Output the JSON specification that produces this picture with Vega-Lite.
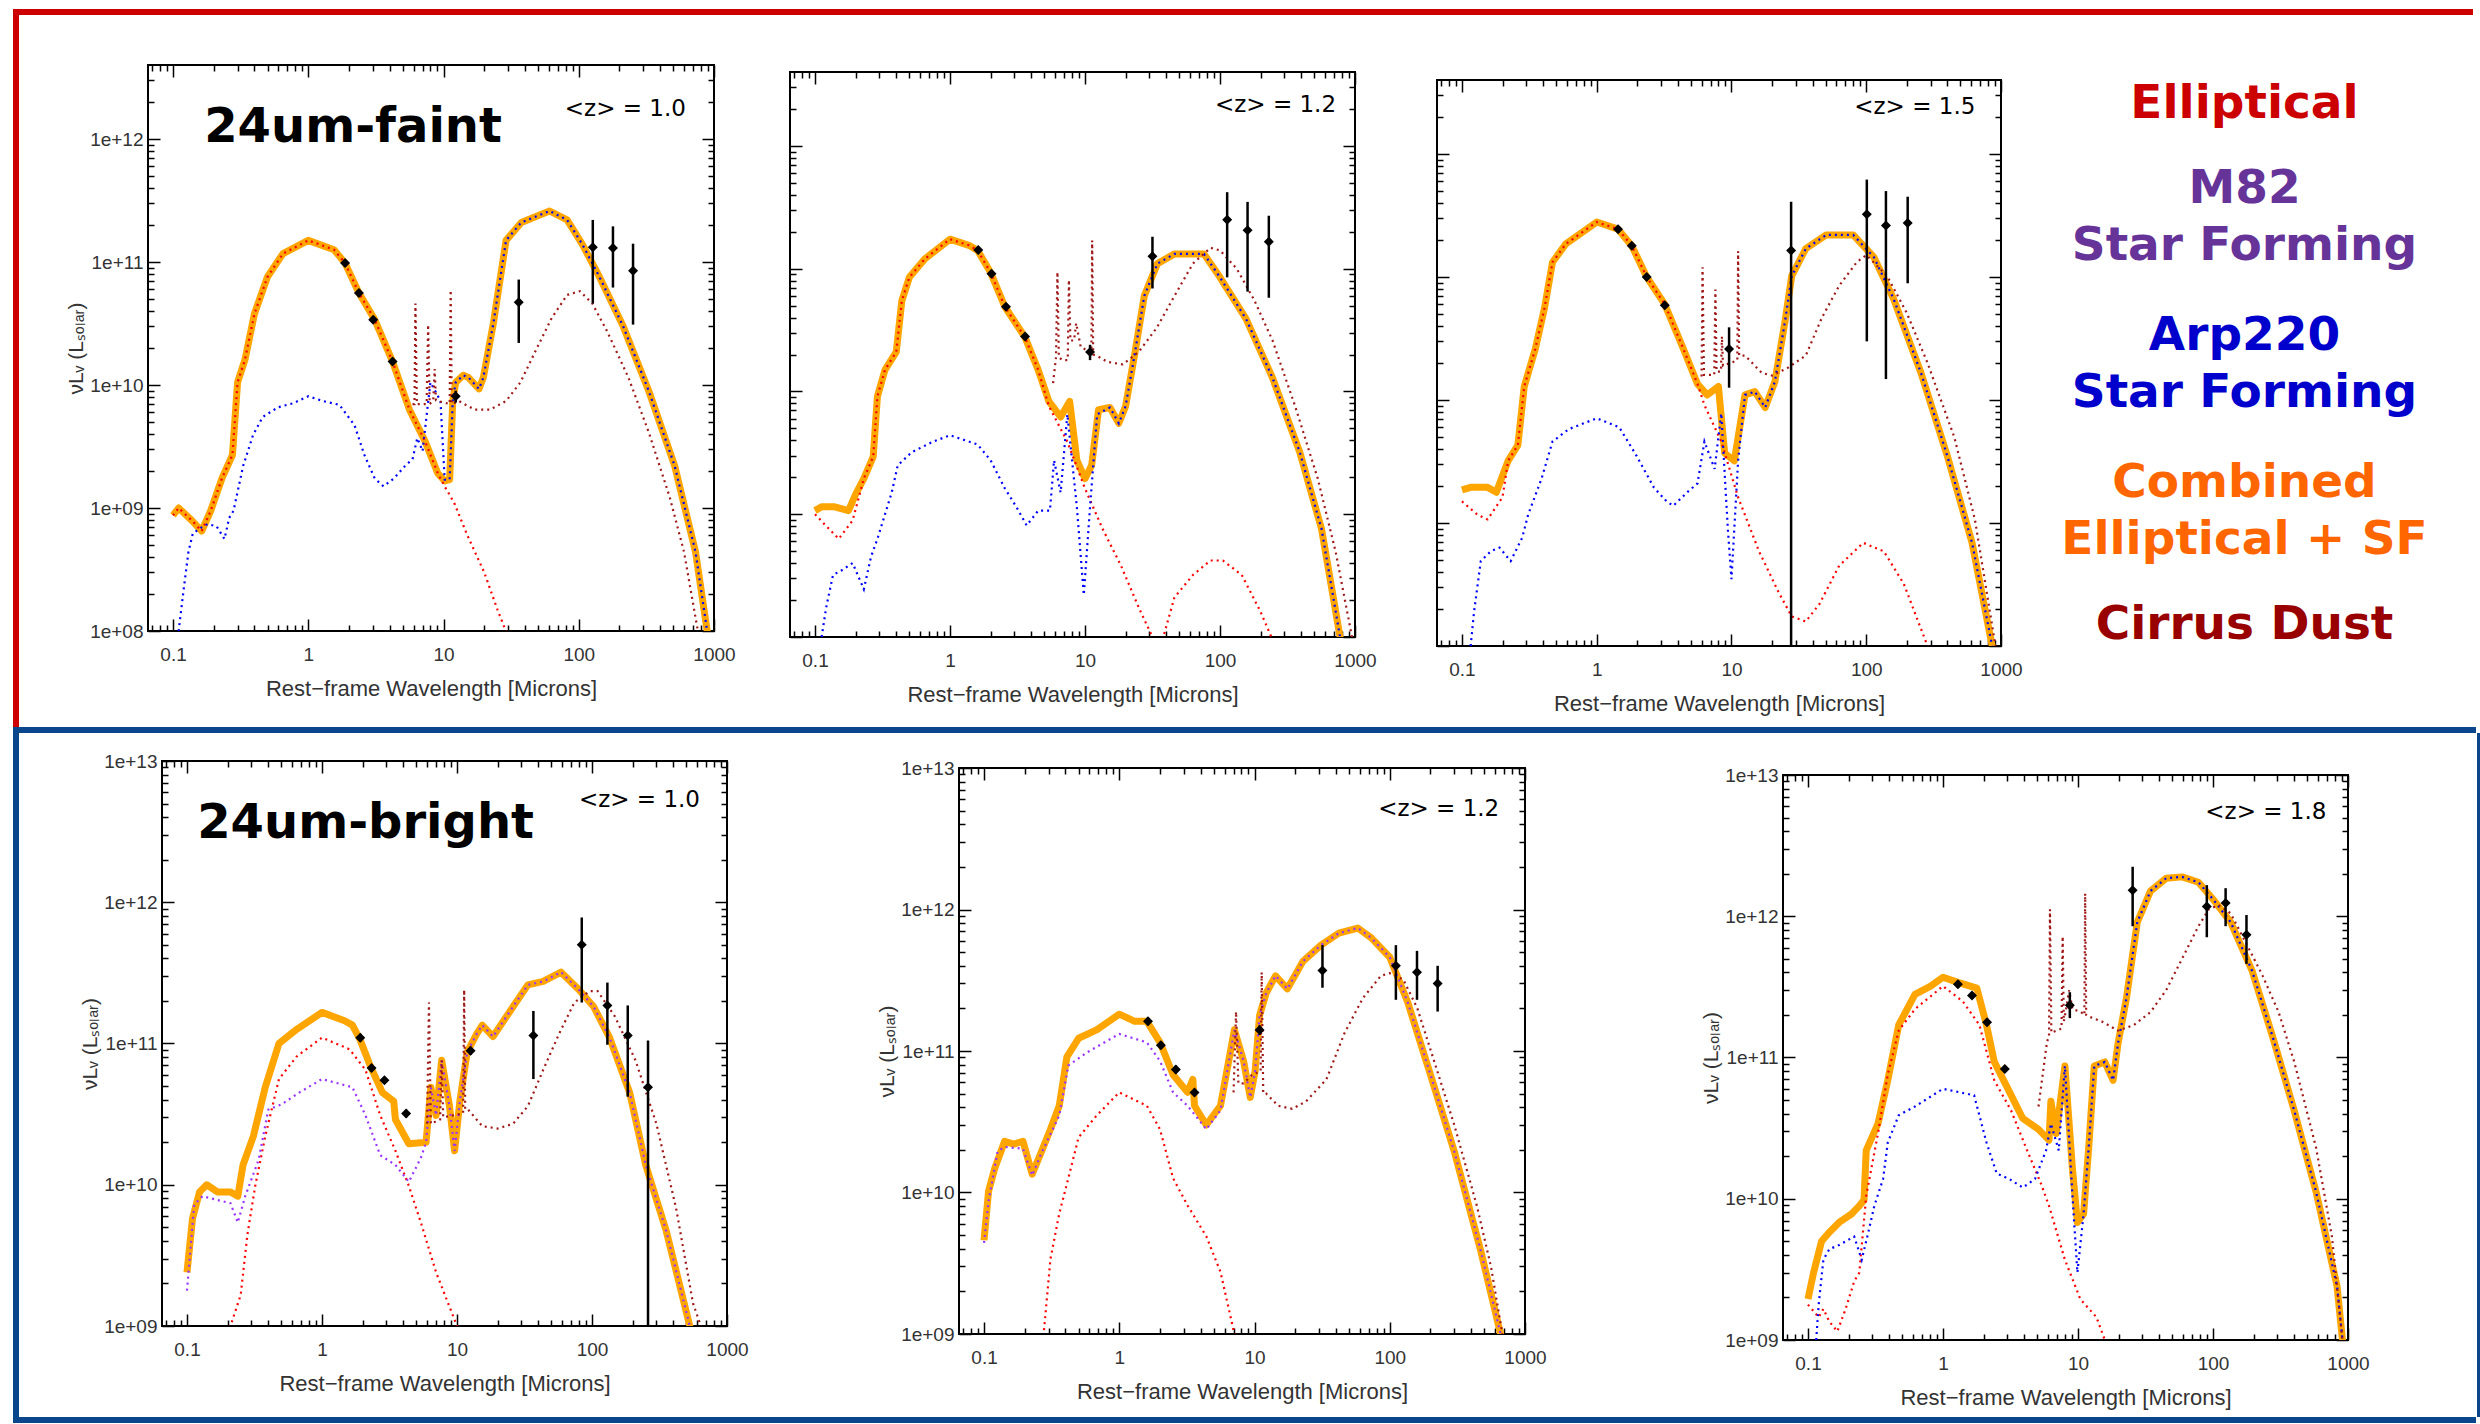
{
"$schema": "https://vega.github.io/schema/vega-lite/v6.json",
"padding": {"left": 13, "top": 9, "right": 0, "bottom": 0},
"background": "white",
"spacing": 0,
"datasets": {
"c": [
{"p":1,"s":"C","x":0.1,"y":8.7e8},{"p":1,"s":"C","x":0.11,"y":1e9},{"p":1,"s":"C","x":0.138,"y":7.9e8},{"p":1,"s":"C","x":0.163,"y":6.5e8},{"p":1,"s":"C","x":0.19,"y":9.5e8},{"p":1,"s":"C","x":0.23,"y":1.74e9},{"p":1,"s":"C","x":0.275,"y":2.7e9},{"p":1,"s":"C","x":0.3,"y":1.05e10},{"p":1,"s":"C","x":0.34,"y":1.6e10},{"p":1,"s":"C","x":0.4,"y":3.8e10},{"p":1,"s":"C","x":0.5,"y":7.6e10},{"p":1,"s":"C","x":0.65,"y":1.17e11},{"p":1,"s":"C","x":1,"y":1.5e11},{"p":1,"s":"C","x":1.55,"y":1.26e11},{"p":1,"s":"C","x":1.87,"y":9.8e10},{"p":1,"s":"C","x":2.37,"y":5.6e10},{"p":1,"s":"C","x":3.1,"y":3.4e10},{"p":1,"s":"C","x":4.2,"y":1.55e10},{"p":1,"s":"C","x":5.6,"y":6.3e9},{"p":1,"s":"C","x":7.3,"y":3.5e9},{"p":1,"s":"C","x":9.1,"y":1.9e9},{"p":1,"s":"C","x":10.2,"y":1.66e9},{"p":1,"s":"C","x":11.1,"y":1.7e9},{"p":1,"s":"C","x":11.7,"y":7.4e9},{"p":1,"s":"C","x":12.3,"y":1.05e10},{"p":1,"s":"C","x":14,"y":1.2e10},{"p":1,"s":"C","x":15.3,"y":1.15e10},{"p":1,"s":"C","x":18.3,"y":9.3e9},{"p":1,"s":"C","x":19.7,"y":1.15e10},{"p":1,"s":"C","x":23.4,"y":3.2e10},{"p":1,"s":"C","x":29,"y":1.5e11},{"p":1,"s":"C","x":37.6,"y":2.1e11},{"p":1,"s":"C","x":60.8,"y":2.6e11},{"p":1,"s":"C","x":82,"y":2.2e11},{"p":1,"s":"C","x":106,"y":1.4e11},{"p":1,"s":"C","x":142,"y":7.6e10},{"p":1,"s":"C","x":213,"y":3e10},{"p":1,"s":"C","x":330,"y":8.9e9},{"p":1,"s":"C","x":512,"y":2.2e9},{"p":1,"s":"C","x":730,"y":4.4e8},{"p":1,"s":"C","x":890,"y":1e8},{"p":1,"s":"C","x":950,"y":7e7},
{"p":1,"s":"E","x":0.1,"y":8.7e8},{"p":1,"s":"E","x":0.11,"y":1e9},{"p":1,"s":"E","x":0.138,"y":7.9e8},{"p":1,"s":"E","x":0.163,"y":6.5e8},{"p":1,"s":"E","x":0.19,"y":9.5e8},{"p":1,"s":"E","x":0.23,"y":1.74e9},{"p":1,"s":"E","x":0.275,"y":2.7e9},{"p":1,"s":"E","x":0.3,"y":1.05e10},{"p":1,"s":"E","x":0.34,"y":1.6e10},{"p":1,"s":"E","x":0.4,"y":3.8e10},{"p":1,"s":"E","x":0.5,"y":7.6e10},{"p":1,"s":"E","x":0.65,"y":1.17e11},{"p":1,"s":"E","x":1,"y":1.5e11},{"p":1,"s":"E","x":1.55,"y":1.26e11},{"p":1,"s":"E","x":1.87,"y":9.8e10},{"p":1,"s":"E","x":2.37,"y":5.6e10},{"p":1,"s":"E","x":3.1,"y":3.4e10},{"p":1,"s":"E","x":4.2,"y":1.55e10},{"p":1,"s":"E","x":5.6,"y":6.3e9},{"p":1,"s":"E","x":7.3,"y":3.5e9},{"p":1,"s":"E","x":9.1,"y":1.9e9},{"p":1,"s":"E","x":10.2,"y":1.5e9},{"p":1,"s":"E","x":12,"y":1.1e9},{"p":1,"s":"E","x":15,"y":6e8},{"p":1,"s":"E","x":20,"y":3e8},{"p":1,"s":"E","x":25,"y":1.5e8},{"p":1,"s":"E","x":30,"y":9e7},
{"p":1,"s":"A","x":0.11,"y":1e8},{"p":1,"s":"A","x":0.12,"y":2.2e8},{"p":1,"s":"A","x":0.13,"y":4.4e8},{"p":1,"s":"A","x":0.14,"y":6.2e8},{"p":1,"s":"A","x":0.157,"y":6.8e8},{"p":1,"s":"A","x":0.18,"y":7.4e8},{"p":1,"s":"A","x":0.21,"y":7.1e8},{"p":1,"s":"A","x":0.24,"y":5.6e8},{"p":1,"s":"A","x":0.26,"y":8.3e8},{"p":1,"s":"A","x":0.28,"y":9.5e8},{"p":1,"s":"A","x":0.33,"y":2.2e9},{"p":1,"s":"A","x":0.39,"y":3.9e9},{"p":1,"s":"A","x":0.46,"y":5.5e9},{"p":1,"s":"A","x":0.6,"y":6.6e9},{"p":1,"s":"A","x":0.77,"y":7.1e9},{"p":1,"s":"A","x":1,"y":8.1e9},{"p":1,"s":"A","x":1.29,"y":7.4e9},{"p":1,"s":"A","x":1.7,"y":6.9e9},{"p":1,"s":"A","x":2.2,"y":4.7e9},{"p":1,"s":"A","x":2.6,"y":2.7e9},{"p":1,"s":"A","x":3.1,"y":1.74e9},{"p":1,"s":"A","x":3.6,"y":1.5e9},{"p":1,"s":"A","x":4.3,"y":1.74e9},{"p":1,"s":"A","x":5.2,"y":2.2e9},{"p":1,"s":"A","x":5.9,"y":2.5e9},{"p":1,"s":"A","x":6.4,"y":3.7e9},{"p":1,"s":"A","x":7,"y":2.9e9},{"p":1,"s":"A","x":8,"y":1.05e10},{"p":1,"s":"A","x":8.7,"y":8.9e9},{"p":1,"s":"A","x":9.5,"y":7.4e9},{"p":1,"s":"A","x":10.2,"y":1.7e9},{"p":1,"s":"A","x":11.1,"y":1.7e9},{"p":1,"s":"A","x":11.7,"y":7.4e9},{"p":1,"s":"A","x":12.3,"y":1.05e10},{"p":1,"s":"A","x":14,"y":1.2e10},{"p":1,"s":"A","x":15.3,"y":1.15e10},{"p":1,"s":"A","x":18.3,"y":9.3e9},{"p":1,"s":"A","x":19.7,"y":1.15e10},{"p":1,"s":"A","x":23.4,"y":3.2e10},{"p":1,"s":"A","x":29,"y":1.5e11},{"p":1,"s":"A","x":37.6,"y":2.1e11},{"p":1,"s":"A","x":60.8,"y":2.6e11},{"p":1,"s":"A","x":82,"y":2.2e11},{"p":1,"s":"A","x":106,"y":1.4e11},{"p":1,"s":"A","x":142,"y":7.6e10},{"p":1,"s":"A","x":213,"y":3e10},{"p":1,"s":"A","x":330,"y":8.9e9},{"p":1,"s":"A","x":512,"y":2.2e9},{"p":1,"s":"A","x":730,"y":4.4e8},{"p":1,"s":"A","x":890,"y":1e8},{"p":1,"s":"A","x":950,"y":7e7},
{"p":1,"s":"D","x":5.9,"y":7e9},{"p":1,"s":"D","x":6.1,"y":7e9},{"p":1,"s":"D","x":6.2,"y":4.6e10},{"p":1,"s":"D","x":6.35,"y":7e9},{"p":1,"s":"D","x":7.5,"y":7e9},{"p":1,"s":"D","x":7.7,"y":3.1e10},{"p":1,"s":"D","x":7.9,"y":7e9},{"p":1,"s":"D","x":8.4,"y":7.5e9},{"p":1,"s":"D","x":8.6,"y":1.35e10},{"p":1,"s":"D","x":8.8,"y":7.5e9},{"p":1,"s":"D","x":11.1,"y":7e9},{"p":1,"s":"D","x":11.3,"y":5.9e10},{"p":1,"s":"D","x":11.5,"y":7e9},{"p":1,"s":"D","x":13,"y":7.4e9},{"p":1,"s":"D","x":17,"y":6.3e9},{"p":1,"s":"D","x":22,"y":6.3e9},{"p":1,"s":"D","x":29,"y":7.4e9},{"p":1,"s":"D","x":37,"y":1.05e10},{"p":1,"s":"D","x":48,"y":1.9e10},{"p":1,"s":"D","x":63,"y":3.5e10},{"p":1,"s":"D","x":82,"y":5.4e10},{"p":1,"s":"D","x":102,"y":5.8e10},{"p":1,"s":"D","x":126,"y":4.6e10},{"p":1,"s":"D","x":163,"y":2.7e10},{"p":1,"s":"D","x":233,"y":1.15e10},{"p":1,"s":"D","x":330,"y":4.1e9},{"p":1,"s":"D","x":470,"y":1.23e9},{"p":1,"s":"D","x":600,"y":4.4e8},{"p":1,"s":"D","x":760,"y":1e8},{"p":1,"s":"D","x":850,"y":5e7},
{"p":2,"s":"C","x":0.1,"y":1.07e9},{"p":2,"s":"C","x":0.112,"y":1.15e9},{"p":2,"s":"C","x":0.14,"y":1.15e9},{"p":2,"s":"C","x":0.177,"y":1.07e9},{"p":2,"s":"C","x":0.2,"y":1.45e9},{"p":2,"s":"C","x":0.23,"y":1.95e9},{"p":2,"s":"C","x":0.27,"y":2.95e9},{"p":2,"s":"C","x":0.29,"y":9.1e9},{"p":2,"s":"C","x":0.33,"y":1.5e10},{"p":2,"s":"C","x":0.4,"y":2.1e10},{"p":2,"s":"C","x":0.44,"y":5.5e10},{"p":2,"s":"C","x":0.5,"y":8.5e10},{"p":2,"s":"C","x":0.65,"y":1.2e11},{"p":2,"s":"C","x":1,"y":1.74e11},{"p":2,"s":"C","x":1.38,"y":1.55e11},{"p":2,"s":"C","x":1.6,"y":1.41e11},{"p":2,"s":"C","x":2,"y":9.3e10},{"p":2,"s":"C","x":2.55,"y":4.9e10},{"p":2,"s":"C","x":3.6,"y":2.75e10},{"p":2,"s":"C","x":4.5,"y":1.5e10},{"p":2,"s":"C","x":5.4,"y":8.3e9},{"p":2,"s":"C","x":6.6,"y":6.2e9},{"p":2,"s":"C","x":7.7,"y":8.3e9},{"p":2,"s":"C","x":8.7,"y":2.75e9},{"p":2,"s":"C","x":10,"y":1.95e9},{"p":2,"s":"C","x":11.2,"y":2.5e9},{"p":2,"s":"C","x":12.6,"y":7.1e9},{"p":2,"s":"C","x":15.3,"y":7.4e9},{"p":2,"s":"C","x":17.8,"y":5.5e9},{"p":2,"s":"C","x":20,"y":7.6e9},{"p":2,"s":"C","x":23.5,"y":2.1e10},{"p":2,"s":"C","x":27.5,"y":6e10},{"p":2,"s":"C","x":34.4,"y":1.1e11},{"p":2,"s":"C","x":46,"y":1.32e11},{"p":2,"s":"C","x":76,"y":1.32e11},{"p":2,"s":"C","x":100,"y":8.5e10},{"p":2,"s":"C","x":156,"y":3.9e10},{"p":2,"s":"C","x":245,"y":1.29e10},{"p":2,"s":"C","x":390,"y":3.2e9},{"p":2,"s":"C","x":565,"y":7.6e8},{"p":2,"s":"C","x":775,"y":1e8},{"p":2,"s":"C","x":850,"y":6e7},
{"p":2,"s":"E","x":0.1,"y":1e9},{"p":2,"s":"E","x":0.12,"y":8.1e8},{"p":2,"s":"E","x":0.15,"y":6.3e8},{"p":2,"s":"E","x":0.19,"y":8.9e8},{"p":2,"s":"E","x":0.23,"y":1.95e9},{"p":2,"s":"E","x":0.27,"y":2.95e9},{"p":2,"s":"E","x":0.29,"y":9.1e9},{"p":2,"s":"E","x":0.33,"y":1.5e10},{"p":2,"s":"E","x":0.4,"y":2.1e10},{"p":2,"s":"E","x":0.44,"y":5.5e10},{"p":2,"s":"E","x":0.5,"y":8.5e10},{"p":2,"s":"E","x":0.65,"y":1.2e11},{"p":2,"s":"E","x":1,"y":1.74e11},{"p":2,"s":"E","x":1.38,"y":1.55e11},{"p":2,"s":"E","x":1.6,"y":1.41e11},{"p":2,"s":"E","x":2,"y":9.3e10},{"p":2,"s":"E","x":2.55,"y":4.9e10},{"p":2,"s":"E","x":3.6,"y":2.75e10},{"p":2,"s":"E","x":4.5,"y":1.5e10},{"p":2,"s":"E","x":5.4,"y":7.6e9},{"p":2,"s":"E","x":7.4,"y":3.9e9},{"p":2,"s":"E","x":10,"y":1.62e9},{"p":2,"s":"E","x":13.5,"y":7.6e8},{"p":2,"s":"E","x":18.5,"y":3.8e8},{"p":2,"s":"E","x":25,"y":1.74e8},{"p":2,"s":"E","x":31.6,"y":1e8},{"p":2,"s":"E","x":35,"y":7e7},{"p":2,"s":"E","x":38,"y":1e8},{"p":2,"s":"E","x":46,"y":2.1e8},{"p":2,"s":"E","x":63,"y":3.2e8},{"p":2,"s":"E","x":85,"y":4.2e8},{"p":2,"s":"E","x":105,"y":4.2e8},{"p":2,"s":"E","x":145,"y":3.2e8},{"p":2,"s":"E","x":200,"y":1.6e8},{"p":2,"s":"E","x":240,"y":1e8},{"p":2,"s":"E","x":270,"y":7e7},
{"p":2,"s":"A","x":0.112,"y":1e8},{"p":2,"s":"A","x":0.121,"y":1.74e8},{"p":2,"s":"A","x":0.136,"y":3.2e8},{"p":2,"s":"A","x":0.158,"y":3.5e8},{"p":2,"s":"A","x":0.19,"y":4e8},{"p":2,"s":"A","x":0.23,"y":2.45e8},{"p":2,"s":"A","x":0.26,"y":4.5e8},{"p":2,"s":"A","x":0.29,"y":6.3e8},{"p":2,"s":"A","x":0.37,"y":1.5e9},{"p":2,"s":"A","x":0.41,"y":2.5e9},{"p":2,"s":"A","x":0.52,"y":3.2e9},{"p":2,"s":"A","x":0.75,"y":3.9e9},{"p":2,"s":"A","x":1,"y":4.4e9},{"p":2,"s":"A","x":1.6,"y":3.7e9},{"p":2,"s":"A","x":2,"y":2.75e9},{"p":2,"s":"A","x":2.55,"y":1.62e9},{"p":2,"s":"A","x":3.1,"y":1.15e9},{"p":2,"s":"A","x":3.7,"y":8.1e8},{"p":2,"s":"A","x":4.5,"y":1.07e9},{"p":2,"s":"A","x":5.5,"y":1.07e9},{"p":2,"s":"A","x":5.9,"y":2.75e9},{"p":2,"s":"A","x":6.6,"y":1.5e9},{"p":2,"s":"A","x":7.4,"y":6.5e9},{"p":2,"s":"A","x":8.7,"y":1.15e9},{"p":2,"s":"A","x":9.8,"y":2.2e8},{"p":2,"s":"A","x":10.9,"y":1.15e9},{"p":2,"s":"A","x":12.3,"y":6.5e9},{"p":2,"s":"A","x":15.3,"y":7.4e9},{"p":2,"s":"A","x":17.8,"y":5.5e9},{"p":2,"s":"A","x":20,"y":7.6e9},{"p":2,"s":"A","x":23.5,"y":2.1e10},{"p":2,"s":"A","x":27.5,"y":6e10},{"p":2,"s":"A","x":34.4,"y":1.1e11},{"p":2,"s":"A","x":46,"y":1.32e11},{"p":2,"s":"A","x":76,"y":1.32e11},{"p":2,"s":"A","x":100,"y":8.5e10},{"p":2,"s":"A","x":156,"y":3.9e10},{"p":2,"s":"A","x":245,"y":1.29e10},{"p":2,"s":"A","x":390,"y":3.2e9},{"p":2,"s":"A","x":565,"y":7.6e8},{"p":2,"s":"A","x":775,"y":1e8},{"p":2,"s":"A","x":850,"y":6e7},
{"p":2,"s":"D","x":5.8,"y":1.17e10},{"p":2,"s":"D","x":6.1,"y":1.9e10},{"p":2,"s":"D","x":6.25,"y":9.4e10},{"p":2,"s":"D","x":6.4,"y":1.9e10},{"p":2,"s":"D","x":6.8,"y":1.8e10},{"p":2,"s":"D","x":7.45,"y":1.8e10},{"p":2,"s":"D","x":7.6,"y":8.1e10},{"p":2,"s":"D","x":7.8,"y":2.6e10},{"p":2,"s":"D","x":8.3,"y":2.6e10},{"p":2,"s":"D","x":8.6,"y":3.6e10},{"p":2,"s":"D","x":9.3,"y":2.3e10},{"p":2,"s":"D","x":10.9,"y":2.1e10},{"p":2,"s":"D","x":11.15,"y":2.1e10},{"p":2,"s":"D","x":11.3,"y":1.7e11},{"p":2,"s":"D","x":11.5,"y":2e10},{"p":2,"s":"D","x":12.3,"y":1.95e10},{"p":2,"s":"D","x":14.7,"y":1.74e10},{"p":2,"s":"D","x":19,"y":1.66e10},{"p":2,"s":"D","x":25,"y":2.1e10},{"p":2,"s":"D","x":34,"y":3.3e10},{"p":2,"s":"D","x":46,"y":6e10},{"p":2,"s":"D","x":63,"y":1.1e11},{"p":2,"s":"D","x":85,"y":1.48e11},{"p":2,"s":"D","x":100,"y":1.41e11},{"p":2,"s":"D","x":133,"y":1e11},{"p":2,"s":"D","x":180,"y":5.5e10},{"p":2,"s":"D","x":245,"y":2.6e10},{"p":2,"s":"D","x":360,"y":7.6e9},{"p":2,"s":"D","x":530,"y":1.95e9},{"p":2,"s":"D","x":720,"y":4.9e8},{"p":2,"s":"D","x":950,"y":1e8},{"p":2,"s":"D","x":1000,"y":6e7},
{"p":3,"s":"C","x":0.1,"y":1.86e9},{"p":3,"s":"C","x":0.116,"y":1.95e9},{"p":3,"s":"C","x":0.155,"y":1.95e9},{"p":3,"s":"C","x":0.18,"y":1.78e9},{"p":3,"s":"C","x":0.22,"y":3.2e9},{"p":3,"s":"C","x":0.26,"y":4.3e9},{"p":3,"s":"C","x":0.29,"y":1.29e10},{"p":3,"s":"C","x":0.35,"y":2.6e10},{"p":3,"s":"C","x":0.41,"y":5.6e10},{"p":3,"s":"C","x":0.47,"y":1.32e11},{"p":3,"s":"C","x":0.59,"y":1.86e11},{"p":3,"s":"C","x":1,"y":2.8e11},{"p":3,"s":"C","x":1.44,"y":2.45e11},{"p":3,"s":"C","x":1.82,"y":1.8e11},{"p":3,"s":"C","x":2.35,"y":1e11},{"p":3,"s":"C","x":3.2,"y":6e10},{"p":3,"s":"C","x":4.4,"y":2.6e10},{"p":3,"s":"C","x":5.6,"y":1.35e10},{"p":3,"s":"C","x":6.6,"y":1.1e10},{"p":3,"s":"C","x":8,"y":1.29e10},{"p":3,"s":"C","x":8.9,"y":3.7e9},{"p":3,"s":"C","x":10.5,"y":3.2e9},{"p":3,"s":"C","x":12.6,"y":1.1e10},{"p":3,"s":"C","x":14.9,"y":1.17e10},{"p":3,"s":"C","x":17.8,"y":8.7e9},{"p":3,"s":"C","x":21,"y":1.41e10},{"p":3,"s":"C","x":25,"y":4.4e10},{"p":3,"s":"C","x":28,"y":1.02e11},{"p":3,"s":"C","x":35.6,"y":1.7e11},{"p":3,"s":"C","x":50.5,"y":2.2e11},{"p":3,"s":"C","x":80,"y":2.2e11},{"p":3,"s":"C","x":114,"y":1.45e11},{"p":3,"s":"C","x":160,"y":6.6e10},{"p":3,"s":"C","x":255,"y":1.66e10},{"p":3,"s":"C","x":400,"y":3.5e9},{"p":3,"s":"C","x":610,"y":6.9e8},{"p":3,"s":"C","x":860,"y":1e8},{"p":3,"s":"C","x":950,"y":5e7},
{"p":3,"s":"E","x":0.1,"y":1.5e9},{"p":3,"s":"E","x":0.13,"y":1.17e9},{"p":3,"s":"E","x":0.155,"y":1.07e9},{"p":3,"s":"E","x":0.2,"y":1.62e9},{"p":3,"s":"E","x":0.22,"y":3.2e9},{"p":3,"s":"E","x":0.26,"y":4.3e9},{"p":3,"s":"E","x":0.29,"y":1.29e10},{"p":3,"s":"E","x":0.35,"y":2.6e10},{"p":3,"s":"E","x":0.41,"y":5.6e10},{"p":3,"s":"E","x":0.47,"y":1.32e11},{"p":3,"s":"E","x":0.59,"y":1.86e11},{"p":3,"s":"E","x":1,"y":2.8e11},{"p":3,"s":"E","x":1.44,"y":2.45e11},{"p":3,"s":"E","x":1.82,"y":1.8e11},{"p":3,"s":"E","x":2.35,"y":1e11},{"p":3,"s":"E","x":3.2,"y":6e10},{"p":3,"s":"E","x":4.4,"y":2.6e10},{"p":3,"s":"E","x":5.6,"y":1.35e10},{"p":3,"s":"E","x":6.3,"y":9.1e9},{"p":3,"s":"E","x":8.4,"y":4.6e9},{"p":3,"s":"E","x":11.2,"y":1.62e9},{"p":3,"s":"E","x":16,"y":5.9e8},{"p":3,"s":"E","x":22.5,"y":2.7e8},{"p":3,"s":"E","x":28,"y":1.74e8},{"p":3,"s":"E","x":35.6,"y":1.58e8},{"p":3,"s":"E","x":45,"y":2.2e8},{"p":3,"s":"E","x":63,"y":4.5e8},{"p":3,"s":"E","x":95,"y":6.9e8},{"p":3,"s":"E","x":135,"y":5.9e8},{"p":3,"s":"E","x":190,"y":3.2e8},{"p":3,"s":"E","x":285,"y":1e8},{"p":3,"s":"E","x":320,"y":7e7},
{"p":3,"s":"A","x":0.116,"y":1e8},{"p":3,"s":"A","x":0.123,"y":1.9e8},{"p":3,"s":"A","x":0.138,"y":4.9e8},{"p":3,"s":"A","x":0.164,"y":5.9e8},{"p":3,"s":"A","x":0.19,"y":6.3e8},{"p":3,"s":"A","x":0.23,"y":4.9e8},{"p":3,"s":"A","x":0.28,"y":7.6e8},{"p":3,"s":"A","x":0.31,"y":1.17e9},{"p":3,"s":"A","x":0.39,"y":2.3e9},{"p":3,"s":"A","x":0.47,"y":4.6e9},{"p":3,"s":"A","x":0.62,"y":5.8e9},{"p":3,"s":"A","x":1,"y":7.1e9},{"p":3,"s":"A","x":1.47,"y":6e9},{"p":3,"s":"A","x":1.98,"y":3.5e9},{"p":3,"s":"A","x":2.65,"y":1.95e9},{"p":3,"s":"A","x":3.3,"y":1.5e9},{"p":3,"s":"A","x":3.7,"y":1.38e9},{"p":3,"s":"A","x":4.7,"y":1.78e9},{"p":3,"s":"A","x":5.6,"y":2.1e9},{"p":3,"s":"A","x":6.3,"y":4.6e9},{"p":3,"s":"A","x":7.5,"y":2.75e9},{"p":3,"s":"A","x":8.4,"y":7.8e9},{"p":3,"s":"A","x":9.4,"y":8.9e8},{"p":3,"s":"A","x":10,"y":3.5e8},{"p":3,"s":"A","x":11.2,"y":3.2e9},{"p":3,"s":"A","x":12.6,"y":1.1e10},{"p":3,"s":"A","x":14.9,"y":1.17e10},{"p":3,"s":"A","x":17.8,"y":8.7e9},{"p":3,"s":"A","x":21,"y":1.41e10},{"p":3,"s":"A","x":25,"y":4.4e10},{"p":3,"s":"A","x":28,"y":1.02e11},{"p":3,"s":"A","x":35.6,"y":1.7e11},{"p":3,"s":"A","x":50.5,"y":2.2e11},{"p":3,"s":"A","x":80,"y":2.2e11},{"p":3,"s":"A","x":114,"y":1.45e11},{"p":3,"s":"A","x":160,"y":6.6e10},{"p":3,"s":"A","x":255,"y":1.66e10},{"p":3,"s":"A","x":400,"y":3.5e9},{"p":3,"s":"A","x":610,"y":6.9e8},{"p":3,"s":"A","x":860,"y":1e8},{"p":3,"s":"A","x":950,"y":5e7},
{"p":3,"s":"D","x":6,"y":1.55e10},{"p":3,"s":"D","x":6.1,"y":1.2e11},{"p":3,"s":"D","x":6.25,"y":1.6e10},{"p":3,"s":"D","x":7.45,"y":1.6e10},{"p":3,"s":"D","x":7.6,"y":7.9e10},{"p":3,"s":"D","x":7.75,"y":1.7e10},{"p":3,"s":"D","x":8.35,"y":1.7e10},{"p":3,"s":"D","x":8.5,"y":3.3e10},{"p":3,"s":"D","x":8.65,"y":1.9e10},{"p":3,"s":"D","x":11.05,"y":2.1e10},{"p":3,"s":"D","x":11.2,"y":1.62e11},{"p":3,"s":"D","x":11.4,"y":2.3e10},{"p":3,"s":"D","x":12.6,"y":2.3e10},{"p":3,"s":"D","x":16.8,"y":1.66e10},{"p":3,"s":"D","x":20,"y":1.58e10},{"p":3,"s":"D","x":26,"y":1.82e10},{"p":3,"s":"D","x":35.6,"y":2.3e10},{"p":3,"s":"D","x":47,"y":4.7e10},{"p":3,"s":"D","x":63,"y":8.5e10},{"p":3,"s":"D","x":85,"y":1.32e11},{"p":3,"s":"D","x":100,"y":1.51e11},{"p":3,"s":"D","x":143,"y":1.02e11},{"p":3,"s":"D","x":200,"y":5.1e10},{"p":3,"s":"D","x":285,"y":2e10},{"p":3,"s":"D","x":450,"y":5e9},{"p":3,"s":"D","x":640,"y":1.07e9},{"p":3,"s":"D","x":910,"y":1e8},{"p":3,"s":"D","x":980,"y":6e7},
{"p":4,"s":"C","x":0.1,"y":2.4e9},{"p":4,"s":"C","x":0.11,"y":5.8e9},{"p":4,"s":"C","x":0.124,"y":8.9e9},{"p":4,"s":"C","x":0.14,"y":1e10},{"p":4,"s":"C","x":0.168,"y":8.9e9},{"p":4,"s":"C","x":0.21,"y":8.9e9},{"p":4,"s":"C","x":0.238,"y":8.3e9},{"p":4,"s":"C","x":0.26,"y":1.38e10},{"p":4,"s":"C","x":0.31,"y":2.2e10},{"p":4,"s":"C","x":0.38,"y":4.9e10},{"p":4,"s":"C","x":0.48,"y":1e11},{"p":4,"s":"C","x":0.65,"y":1.26e11},{"p":4,"s":"C","x":1,"y":1.66e11},{"p":4,"s":"C","x":1.47,"y":1.45e11},{"p":4,"s":"C","x":1.68,"y":1.35e11},{"p":4,"s":"C","x":1.91,"y":1.07e11},{"p":4,"s":"C","x":2.3,"y":6.8e10},{"p":4,"s":"C","x":2.8,"y":4.5e10},{"p":4,"s":"C","x":3.4,"y":3.9e10},{"p":4,"s":"C","x":3.5,"y":2.9e10},{"p":4,"s":"C","x":4.4,"y":1.95e10},{"p":4,"s":"C","x":5.9,"y":2e10},{"p":4,"s":"C","x":6.4,"y":4.9e10},{"p":4,"s":"C","x":7,"y":3.1e10},{"p":4,"s":"C","x":7.7,"y":7.6e10},{"p":4,"s":"C","x":8.8,"y":3.6e10},{"p":4,"s":"C","x":9.6,"y":1.74e10},{"p":4,"s":"C","x":10.5,"y":3.9e10},{"p":4,"s":"C","x":11.9,"y":8.7e10},{"p":4,"s":"C","x":14,"y":1.17e11},{"p":4,"s":"C","x":15.4,"y":1.35e11},{"p":4,"s":"C","x":18.5,"y":1.12e11},{"p":4,"s":"C","x":26,"y":1.82e11},{"p":4,"s":"C","x":33.5,"y":2.6e11},{"p":4,"s":"C","x":43.5,"y":2.75e11},{"p":4,"s":"C","x":59,"y":3.2e11},{"p":4,"s":"C","x":80,"y":2.4e11},{"p":4,"s":"C","x":103,"y":1.82e11},{"p":4,"s":"C","x":135,"y":1.1e11},{"p":4,"s":"C","x":190,"y":4.5e10},{"p":4,"s":"C","x":250,"y":1.38e10},{"p":4,"s":"C","x":355,"y":4.7e9},{"p":4,"s":"C","x":530,"y":1e9},{"p":4,"s":"C","x":600,"y":6e8},
{"p":4,"s":"E","x":0.2,"y":8e8},{"p":4,"s":"E","x":0.21,"y":1e9},{"p":4,"s":"E","x":0.25,"y":1.66e9},{"p":4,"s":"E","x":0.28,"y":4.4e9},{"p":4,"s":"E","x":0.32,"y":9.8e9},{"p":4,"s":"E","x":0.38,"y":2.2e10},{"p":4,"s":"E","x":0.48,"y":5.6e10},{"p":4,"s":"E","x":0.65,"y":8.1e10},{"p":4,"s":"E","x":1,"y":1.1e11},{"p":4,"s":"E","x":1.6,"y":9.1e10},{"p":4,"s":"E","x":2.1,"y":6.5e10},{"p":4,"s":"E","x":2.7,"y":3.1e10},{"p":4,"s":"E","x":3.5,"y":1.74e10},{"p":4,"s":"E","x":4.4,"y":9.8e9},{"p":4,"s":"E","x":5.4,"y":5.4e9},{"p":4,"s":"E","x":7,"y":2.4e9},{"p":4,"s":"E","x":10,"y":1e9},{"p":4,"s":"E","x":11,"y":8e8},
{"p":4,"s":"M","x":0.1,"y":1.78e9},{"p":4,"s":"M","x":0.113,"y":7.2e9},{"p":4,"s":"M","x":0.13,"y":8.3e9},{"p":4,"s":"M","x":0.168,"y":7.8e9},{"p":4,"s":"M","x":0.21,"y":7.4e9},{"p":4,"s":"M","x":0.238,"y":5.4e9},{"p":4,"s":"M","x":0.27,"y":8.3e9},{"p":4,"s":"M","x":0.34,"y":1.51e10},{"p":4,"s":"M","x":0.4,"y":3.4e10},{"p":4,"s":"M","x":0.5,"y":3.7e10},{"p":4,"s":"M","x":0.68,"y":4.5e10},{"p":4,"s":"M","x":1,"y":5.6e10},{"p":4,"s":"M","x":1.68,"y":4.9e10},{"p":4,"s":"M","x":2.1,"y":3.1e10},{"p":4,"s":"M","x":2.7,"y":1.62e10},{"p":4,"s":"M","x":3.5,"y":1.38e10},{"p":4,"s":"M","x":4.4,"y":1.05e10},{"p":4,"s":"M","x":5.4,"y":1.55e10},{"p":4,"s":"M","x":5.9,"y":2e10},{"p":4,"s":"M","x":6.4,"y":4.9e10},{"p":4,"s":"M","x":7,"y":3.1e10},{"p":4,"s":"M","x":7.7,"y":7.6e10},{"p":4,"s":"M","x":8.8,"y":3.6e10},{"p":4,"s":"M","x":9.6,"y":1.74e10},{"p":4,"s":"M","x":10.5,"y":3.9e10},{"p":4,"s":"M","x":11.9,"y":8.7e10},{"p":4,"s":"M","x":14,"y":1.17e11},{"p":4,"s":"M","x":15.4,"y":1.35e11},{"p":4,"s":"M","x":18.5,"y":1.12e11},{"p":4,"s":"M","x":26,"y":1.82e11},{"p":4,"s":"M","x":33.5,"y":2.6e11},{"p":4,"s":"M","x":43.5,"y":2.75e11},{"p":4,"s":"M","x":59,"y":3.2e11},{"p":4,"s":"M","x":80,"y":2.4e11},{"p":4,"s":"M","x":103,"y":1.82e11},{"p":4,"s":"M","x":135,"y":1.1e11},{"p":4,"s":"M","x":190,"y":4.5e10},{"p":4,"s":"M","x":250,"y":1.38e10},{"p":4,"s":"M","x":355,"y":4.7e9},{"p":4,"s":"M","x":530,"y":1e9},{"p":4,"s":"M","x":600,"y":6e8},
{"p":4,"s":"D","x":6,"y":2.7e10},{"p":4,"s":"D","x":6.2,"y":1.95e11},{"p":4,"s":"D","x":6.4,"y":2.7e10},{"p":4,"s":"D","x":7.5,"y":2.9e10},{"p":4,"s":"D","x":7.7,"y":7.6e10},{"p":4,"s":"D","x":7.9,"y":3e10},{"p":4,"s":"D","x":11.1,"y":3.2e10},{"p":4,"s":"D","x":11.3,"y":2.4e11},{"p":4,"s":"D","x":11.5,"y":3.4e10},{"p":4,"s":"D","x":12.1,"y":3.4e10},{"p":4,"s":"D","x":15.4,"y":2.6e10},{"p":4,"s":"D","x":20,"y":2.5e10},{"p":4,"s":"D","x":26,"y":2.7e10},{"p":4,"s":"D","x":33.5,"y":3.6e10},{"p":4,"s":"D","x":43.5,"y":6.5e10},{"p":4,"s":"D","x":57,"y":1.17e11},{"p":4,"s":"D","x":74,"y":1.95e11},{"p":4,"s":"D","x":96,"y":2.35e11},{"p":4,"s":"D","x":110,"y":2.35e11},{"p":4,"s":"D","x":148,"y":1.55e11},{"p":4,"s":"D","x":210,"y":7.6e10},{"p":4,"s":"D","x":300,"y":2.7e10},{"p":4,"s":"D","x":420,"y":6.8e9},{"p":4,"s":"D","x":560,"y":1.45e9},{"p":4,"s":"D","x":640,"y":1e9},{"p":4,"s":"D","x":700,"y":7e8},
{"p":5,"s":"C","x":0.1,"y":4.6e9},{"p":5,"s":"C","x":0.108,"y":1.02e10},{"p":5,"s":"C","x":0.12,"y":1.48e10},{"p":5,"s":"C","x":0.142,"y":2.3e10},{"p":5,"s":"C","x":0.166,"y":2.2e10},{"p":5,"s":"C","x":0.194,"y":2.3e10},{"p":5,"s":"C","x":0.227,"y":1.35e10},{"p":5,"s":"C","x":0.266,"y":1.95e10},{"p":5,"s":"C","x":0.31,"y":2.8e10},{"p":5,"s":"C","x":0.36,"y":4.1e10},{"p":5,"s":"C","x":0.41,"y":9.1e10},{"p":5,"s":"C","x":0.5,"y":1.23e11},{"p":5,"s":"C","x":0.68,"y":1.41e11},{"p":5,"s":"C","x":1,"y":1.82e11},{"p":5,"s":"C","x":1.3,"y":1.62e11},{"p":5,"s":"C","x":1.6,"y":1.62e11},{"p":5,"s":"C","x":2,"y":1.15e11},{"p":5,"s":"C","x":2.5,"y":6.8e10},{"p":5,"s":"C","x":3.2,"y":5.1e10},{"p":5,"s":"C","x":3.5,"y":6.3e10},{"p":5,"s":"C","x":3.6,"y":4.1e10},{"p":5,"s":"C","x":4.4,"y":3e10},{"p":5,"s":"C","x":5.6,"y":4.1e10},{"p":5,"s":"C","x":7.1,"y":1.41e11},{"p":5,"s":"C","x":8.3,"y":8.5e10},{"p":5,"s":"C","x":9.3,"y":4.7e10},{"p":5,"s":"C","x":10.1,"y":7.2e10},{"p":5,"s":"C","x":10.9,"y":1.78e11},{"p":5,"s":"C","x":12.2,"y":2.57e11},{"p":5,"s":"C","x":14.3,"y":3.4e11},{"p":5,"s":"C","x":17.5,"y":2.75e11},{"p":5,"s":"C","x":22.8,"y":4.3e11},{"p":5,"s":"C","x":31,"y":5.6e11},{"p":5,"s":"C","x":42,"y":6.8e11},{"p":5,"s":"C","x":58,"y":7.4e11},{"p":5,"s":"C","x":73,"y":6.3e11},{"p":5,"s":"C","x":100,"y":4.6e11},{"p":5,"s":"C","x":136,"y":2.2e11},{"p":5,"s":"C","x":200,"y":6.8e10},{"p":5,"s":"C","x":300,"y":1.95e10},{"p":5,"s":"C","x":470,"y":3.9e9},{"p":5,"s":"C","x":660,"y":1e9},{"p":5,"s":"C","x":720,"y":7e8},
{"p":5,"s":"E","x":0.26,"y":8e8},{"p":5,"s":"E","x":0.276,"y":1e9},{"p":5,"s":"E","x":0.31,"y":3.4e9},{"p":5,"s":"E","x":0.36,"y":7.1e9},{"p":5,"s":"E","x":0.42,"y":1.26e10},{"p":5,"s":"E","x":0.5,"y":2.45e10},{"p":5,"s":"E","x":0.68,"y":3.5e10},{"p":5,"s":"E","x":1,"y":5.1e10},{"p":5,"s":"E","x":1.6,"y":4.1e10},{"p":5,"s":"E","x":2,"y":2.8e10},{"p":5,"s":"E","x":2.5,"y":1.26e10},{"p":5,"s":"E","x":3.2,"y":8.1e9},{"p":5,"s":"E","x":4.4,"y":4.9e9},{"p":5,"s":"E","x":5.6,"y":2.75e9},{"p":5,"s":"E","x":7.1,"y":1e9},{"p":5,"s":"E","x":7.5,"y":8e8},
{"p":5,"s":"M","x":0.1,"y":4.4e9},{"p":5,"s":"M","x":0.108,"y":8.7e9},{"p":5,"s":"M","x":0.126,"y":1.95e10},{"p":5,"s":"M","x":0.142,"y":2.1e10},{"p":5,"s":"M","x":0.194,"y":2.04e10},{"p":5,"s":"M","x":0.227,"y":1.32e10},{"p":5,"s":"M","x":0.266,"y":1.9e10},{"p":5,"s":"M","x":0.36,"y":3.5e10},{"p":5,"s":"M","x":0.42,"y":7.9e10},{"p":5,"s":"M","x":0.58,"y":9.8e10},{"p":5,"s":"M","x":1,"y":1.32e11},{"p":5,"s":"M","x":1.6,"y":1.15e11},{"p":5,"s":"M","x":2,"y":8.5e10},{"p":5,"s":"M","x":2.5,"y":5.1e10},{"p":5,"s":"M","x":3.2,"y":4.1e10},{"p":5,"s":"M","x":4.4,"y":2.8e10},{"p":5,"s":"M","x":5.6,"y":3.8e10},{"p":5,"s":"M","x":7.1,"y":1.41e11},{"p":5,"s":"M","x":8.3,"y":8.5e10},{"p":5,"s":"M","x":9.3,"y":4.7e10},{"p":5,"s":"M","x":10.1,"y":7.2e10},{"p":5,"s":"M","x":10.9,"y":1.78e11},{"p":5,"s":"M","x":12.2,"y":2.57e11},{"p":5,"s":"M","x":14.3,"y":3.4e11},{"p":5,"s":"M","x":17.5,"y":2.75e11},{"p":5,"s":"M","x":22.8,"y":4.3e11},{"p":5,"s":"M","x":31,"y":5.6e11},{"p":5,"s":"M","x":42,"y":6.8e11},{"p":5,"s":"M","x":58,"y":7.4e11},{"p":5,"s":"M","x":73,"y":6.3e11},{"p":5,"s":"M","x":100,"y":4.6e11},{"p":5,"s":"M","x":136,"y":2.2e11},{"p":5,"s":"M","x":200,"y":6.8e10},{"p":5,"s":"M","x":300,"y":1.95e10},{"p":5,"s":"M","x":470,"y":3.9e9},{"p":5,"s":"M","x":660,"y":1e9},{"p":5,"s":"M","x":720,"y":7e8},
{"p":5,"s":"D","x":7,"y":5.1e10},{"p":5,"s":"D","x":7.3,"y":1.9e11},{"p":5,"s":"D","x":7.6,"y":5.9e10},{"p":5,"s":"D","x":8.3,"y":5.9e10},{"p":5,"s":"D","x":9.6,"y":6.8e10},{"p":5,"s":"D","x":11.1,"y":7.2e10},{"p":5,"s":"D","x":11.3,"y":3.6e11},{"p":5,"s":"D","x":11.6,"y":5e10},{"p":5,"s":"D","x":12.2,"y":5e10},{"p":5,"s":"D","x":15,"y":4.1e10},{"p":5,"s":"D","x":19,"y":3.9e10},{"p":5,"s":"D","x":24,"y":4.4e10},{"p":5,"s":"D","x":34,"y":6.3e10},{"p":5,"s":"D","x":46,"y":1.32e11},{"p":5,"s":"D","x":63,"y":2.35e11},{"p":5,"s":"D","x":86,"y":3.4e11},{"p":5,"s":"D","x":100,"y":3.55e11},{"p":5,"s":"D","x":126,"y":3.2e11},{"p":5,"s":"D","x":160,"y":2e11},{"p":5,"s":"D","x":218,"y":7.9e10},{"p":5,"s":"D","x":300,"y":3e10},{"p":5,"s":"D","x":440,"y":8.1e9},{"p":5,"s":"D","x":560,"y":3e9},{"p":5,"s":"D","x":680,"y":1e9},{"p":5,"s":"D","x":740,"y":7e8},
{"p":6,"s":"C","x":0.1,"y":1.95e9},{"p":6,"s":"C","x":0.11,"y":3e9},{"p":6,"s":"C","x":0.126,"y":5e9},{"p":6,"s":"C","x":0.144,"y":5.8e9},{"p":6,"s":"C","x":0.17,"y":6.8e9},{"p":6,"s":"C","x":0.21,"y":7.8e9},{"p":6,"s":"C","x":0.24,"y":8.9e9},{"p":6,"s":"C","x":0.26,"y":9.8e9},{"p":6,"s":"C","x":0.27,"y":2.2e10},{"p":6,"s":"C","x":0.33,"y":3.4e10},{"p":6,"s":"C","x":0.39,"y":6.9e10},{"p":6,"s":"C","x":0.47,"y":1.7e11},{"p":6,"s":"C","x":0.62,"y":2.8e11},{"p":6,"s":"C","x":0.81,"y":3.2e11},{"p":6,"s":"C","x":1,"y":3.7e11},{"p":6,"s":"C","x":1.29,"y":3.4e11},{"p":6,"s":"C","x":1.78,"y":3.1e11},{"p":6,"s":"C","x":2.1,"y":1.7e11},{"p":6,"s":"C","x":2.4,"y":9.3e10},{"p":6,"s":"C","x":2.9,"y":6.5e10},{"p":6,"s":"C","x":3.9,"y":3.7e10},{"p":6,"s":"C","x":5.1,"y":3.1e10},{"p":6,"s":"C","x":6.1,"y":2.6e10},{"p":6,"s":"C","x":6.3,"y":4.9e10},{"p":6,"s":"C","x":6.9,"y":2.9e10},{"p":6,"s":"C","x":8,"y":8.7e10},{"p":6,"s":"C","x":9.1,"y":1.62e10},{"p":6,"s":"C","x":9.9,"y":6.8e9},{"p":6,"s":"C","x":11,"y":7.8e9},{"p":6,"s":"C","x":12,"y":2.3e10},{"p":6,"s":"C","x":13.2,"y":8.7e10},{"p":6,"s":"C","x":15.8,"y":9.3e10},{"p":6,"s":"C","x":18.2,"y":6.9e10},{"p":6,"s":"C","x":19.8,"y":1.26e11},{"p":6,"s":"C","x":22.8,"y":2.6e11},{"p":6,"s":"C","x":27.5,"y":9.1e11},{"p":6,"s":"C","x":34.5,"y":1.51e12},{"p":6,"s":"C","x":45,"y":1.86e12},{"p":6,"s":"C","x":59,"y":1.9e12},{"p":6,"s":"C","x":78,"y":1.74e12},{"p":6,"s":"C","x":100,"y":1.32e12},{"p":6,"s":"C","x":135,"y":9.1e11},{"p":6,"s":"C","x":195,"y":4.1e11},{"p":6,"s":"C","x":280,"y":1.35e11},{"p":6,"s":"C","x":400,"y":4.2e10},{"p":6,"s":"C","x":580,"y":1.12e10},{"p":6,"s":"C","x":830,"y":2.4e9},{"p":6,"s":"C","x":910,"y":1e9},{"p":6,"s":"C","x":960,"y":7e8},
{"p":6,"s":"E","x":0.1,"y":1.78e9},{"p":6,"s":"E","x":0.12,"y":1.45e9},{"p":6,"s":"E","x":0.13,"y":1.66e9},{"p":6,"s":"E","x":0.144,"y":1.35e9},{"p":6,"s":"E","x":0.165,"y":1.15e9},{"p":6,"s":"E","x":0.19,"y":1.66e9},{"p":6,"s":"E","x":0.22,"y":2.6e9},{"p":6,"s":"E","x":0.24,"y":3e9},{"p":6,"s":"E","x":0.27,"y":1.05e10},{"p":6,"s":"E","x":0.33,"y":2.9e10},{"p":6,"s":"E","x":0.39,"y":7.6e10},{"p":6,"s":"E","x":0.47,"y":1.55e11},{"p":6,"s":"E","x":0.62,"y":2.2e11},{"p":6,"s":"E","x":1,"y":3.2e11},{"p":6,"s":"E","x":1.4,"y":2.5e11},{"p":6,"s":"E","x":1.86,"y":1.7e11},{"p":6,"s":"E","x":2.4,"y":6.9e10},{"p":6,"s":"E","x":3.2,"y":4.2e10},{"p":6,"s":"E","x":4.2,"y":2.2e10},{"p":6,"s":"E","x":5.3,"y":1.29e10},{"p":6,"s":"E","x":6.1,"y":8.9e9},{"p":6,"s":"E","x":8,"y":3.7e9},{"p":6,"s":"E","x":10.4,"y":1.95e9},{"p":6,"s":"E","x":13.7,"y":1.45e9},{"p":6,"s":"E","x":15.8,"y":1e9},{"p":6,"s":"E","x":17,"y":8e8},
{"p":6,"s":"A","x":0.115,"y":1e9},{"p":6,"s":"A","x":0.12,"y":1.78e9},{"p":6,"s":"A","x":0.13,"y":3.7e9},{"p":6,"s":"A","x":0.144,"y":4.4e9},{"p":6,"s":"A","x":0.17,"y":4.7e9},{"p":6,"s":"A","x":0.22,"y":5.4e9},{"p":6,"s":"A","x":0.25,"y":3.7e9},{"p":6,"s":"A","x":0.28,"y":5.8e9},{"p":6,"s":"A","x":0.31,"y":8.9e9},{"p":6,"s":"A","x":0.36,"y":1.38e10},{"p":6,"s":"A","x":0.39,"y":2.5e10},{"p":6,"s":"A","x":0.47,"y":3.9e10},{"p":6,"s":"A","x":0.62,"y":4.5e10},{"p":6,"s":"A","x":1,"y":6e10},{"p":6,"s":"A","x":1.7,"y":5.4e10},{"p":6,"s":"A","x":2.1,"y":2.5e10},{"p":6,"s":"A","x":2.5,"y":1.51e10},{"p":6,"s":"A","x":3.1,"y":1.38e10},{"p":6,"s":"A","x":3.9,"y":1.2e10},{"p":6,"s":"A","x":4.8,"y":1.38e10},{"p":6,"s":"A","x":5.8,"y":2.2e10},{"p":6,"s":"A","x":6.3,"y":3.4e10},{"p":6,"s":"A","x":7.2,"y":2.2e10},{"p":6,"s":"A","x":8,"y":8.7e10},{"p":6,"s":"A","x":9.1,"y":1.05e10},{"p":6,"s":"A","x":9.9,"y":3e9},{"p":6,"s":"A","x":11,"y":7.8e9},{"p":6,"s":"A","x":12,"y":2.3e10},{"p":6,"s":"A","x":13.2,"y":8.7e10},{"p":6,"s":"A","x":15.8,"y":9.3e10},{"p":6,"s":"A","x":18.2,"y":6.9e10},{"p":6,"s":"A","x":19.8,"y":1.26e11},{"p":6,"s":"A","x":22.8,"y":2.6e11},{"p":6,"s":"A","x":27.5,"y":9.1e11},{"p":6,"s":"A","x":34.5,"y":1.51e12},{"p":6,"s":"A","x":45,"y":1.86e12},{"p":6,"s":"A","x":59,"y":1.9e12},{"p":6,"s":"A","x":78,"y":1.74e12},{"p":6,"s":"A","x":100,"y":1.32e12},{"p":6,"s":"A","x":135,"y":9.1e11},{"p":6,"s":"A","x":195,"y":4.1e11},{"p":6,"s":"A","x":280,"y":1.35e11},{"p":6,"s":"A","x":400,"y":4.2e10},{"p":6,"s":"A","x":580,"y":1.12e10},{"p":6,"s":"A","x":830,"y":2.4e9},{"p":6,"s":"A","x":910,"y":1e9},{"p":6,"s":"A","x":960,"y":7e8},
{"p":6,"s":"D","x":5.1,"y":4.5e10},{"p":6,"s":"D","x":5.9,"y":1.3e11},{"p":6,"s":"D","x":6.1,"y":1.4e11},{"p":6,"s":"D","x":6.2,"y":1.12e12},{"p":6,"s":"D","x":6.35,"y":1.5e11},{"p":6,"s":"D","x":7.55,"y":1.6e11},{"p":6,"s":"D","x":7.7,"y":7.2e11},{"p":6,"s":"D","x":7.85,"y":1.8e11},{"p":6,"s":"D","x":8.1,"y":2.1e11},{"p":6,"s":"D","x":8.6,"y":3e11},{"p":6,"s":"D","x":9.1,"y":2.2e11},{"p":6,"s":"D","x":10.5,"y":2.1e11},{"p":6,"s":"D","x":11.15,"y":2e11},{"p":6,"s":"D","x":11.3,"y":1.45e12},{"p":6,"s":"D","x":11.5,"y":2e11},{"p":6,"s":"D","x":12,"y":1.95e11},{"p":6,"s":"D","x":15,"y":1.8e11},{"p":6,"s":"D","x":19.8,"y":1.55e11},{"p":6,"s":"D","x":26,"y":1.7e11},{"p":6,"s":"D","x":34.5,"y":2.1e11},{"p":6,"s":"D","x":45,"y":3e11},{"p":6,"s":"D","x":59,"y":5e11},{"p":6,"s":"D","x":78,"y":8.5e11},{"p":6,"s":"D","x":93,"y":1.12e12},{"p":6,"s":"D","x":110,"y":1.2e12},{"p":6,"s":"D","x":135,"y":1.05e12},{"p":6,"s":"D","x":178,"y":6.3e11},{"p":6,"s":"D","x":233,"y":3.8e11},{"p":6,"s":"D","x":306,"y":2.1e11},{"p":6,"s":"D","x":400,"y":9.3e10},{"p":6,"s":"D","x":580,"y":2.3e10},{"p":6,"s":"D","x":760,"y":5.4e9},{"p":6,"s":"D","x":910,"y":1e9},{"p":6,"s":"D","x":960,"y":7e8}
],
"pt": [
{"p":1,"x":1.87,"y":9.8e10,"lo":9.2e10,"hi":1.04e11},{"p":1,"x":2.37,"y":5.6e10,"lo":5.2e10,"hi":6e10},{"p":1,"x":3.02,"y":3.4e10,"lo":3.2e10,"hi":3.6e10},{"p":1,"x":4.2,"y":1.55e10,"lo":1.45e10,"hi":1.65e10},{"p":1,"x":12.3,"y":8.1e9,"lo":7.2e9,"hi":9e9},{"p":1,"x":36,"y":4.7e10,"lo":2.2e10,"hi":7.2e10},{"p":1,"x":127,"y":1.32e11,"lo":4.6e10,"hi":2.2e11},{"p":1,"x":179,"y":1.3e11,"lo":6.2e10,"hi":1.95e11},{"p":1,"x":252,"y":8.5e10,"lo":3.1e10,"hi":1.41e11},
{"p":2,"x":1.62,"y":1.42e11,"lo":1.33e11,"hi":1.51e11},{"p":2,"x":2.03,"y":9.1e10,"lo":8.5e10,"hi":9.7e10},{"p":2,"x":2.6,"y":4.9e10,"lo":4.6e10,"hi":5.2e10},{"p":2,"x":3.6,"y":2.8e10,"lo":2.6e10,"hi":3e10},{"p":2,"x":10.9,"y":2.1e10,"lo":1.8e10,"hi":2.4e10},{"p":2,"x":31.6,"y":1.26e11,"lo":6.9e10,"hi":1.82e11},{"p":2,"x":113,"y":2.5e11,"lo":8.5e10,"hi":4.2e11},{"p":2,"x":160,"y":2.06e11,"lo":6.5e10,"hi":3.5e11},{"p":2,"x":230,"y":1.66e11,"lo":5.8e10,"hi":2.7e11},
{"p":3,"x":1.44,"y":2.45e11,"lo":2.3e11,"hi":2.6e11},{"p":3,"x":1.82,"y":1.8e11,"lo":1.7e11,"hi":1.9e11},{"p":3,"x":2.35,"y":1e11,"lo":9.4e10,"hi":1.06e11},{"p":3,"x":3.2,"y":5.9e10,"lo":5.5e10,"hi":6.3e10},{"p":3,"x":9.6,"y":2.6e10,"lo":1.26e10,"hi":3.9e10},{"p":3,"x":27.7,"y":1.64e11,"lo":9e7,"hi":4.1e11},{"p":3,"x":101,"y":3.24e11,"lo":3e10,"hi":6.2e11},{"p":3,"x":140,"y":2.63e11,"lo":1.48e10,"hi":5e11},{"p":3,"x":203,"y":2.75e11,"lo":8.9e10,"hi":4.5e11},
{"p":4,"x":1.92,"y":1.1e11,"lo":1.03e11,"hi":1.17e11},{"p":4,"x":2.33,"y":6.7e10,"lo":6.3e10,"hi":7.1e10},{"p":4,"x":2.9,"y":5.5e10,"lo":5.2e10,"hi":5.8e10},{"p":4,"x":4.2,"y":3.2e10,"lo":3e10,"hi":3.4e10},{"p":4,"x":12.6,"y":8.9e10,"lo":8.3e10,"hi":9.5e10},{"p":4,"x":36.8,"y":1.14e11,"lo":5.6e10,"hi":1.7e11},{"p":4,"x":84,"y":5e11,"lo":1.95e11,"hi":7.8e11},{"p":4,"x":130,"y":1.86e11,"lo":9.8e10,"hi":2.7e11},{"p":4,"x":184,"y":1.14e11,"lo":4.2e10,"hi":1.86e11},{"p":4,"x":260,"y":4.9e10,"lo":8e8,"hi":1.05e11},
{"p":5,"x":1.63,"y":1.62e11,"lo":1.52e11,"hi":1.72e11},{"p":5,"x":2.03,"y":1.1e11,"lo":1.03e11,"hi":1.17e11},{"p":5,"x":2.62,"y":7.4e10,"lo":6.9e10,"hi":7.9e10},{"p":5,"x":3.6,"y":5.1e10,"lo":4.8e10,"hi":5.4e10},{"p":5,"x":10.9,"y":1.41e11,"lo":1.3e11,"hi":1.52e11},{"p":5,"x":31.8,"y":3.7e11,"lo":2.8e11,"hi":5.6e11},{"p":5,"x":111,"y":4e11,"lo":2.3e11,"hi":5.6e11},{"p":5,"x":159,"y":3.6e11,"lo":2.3e11,"hi":5.1e11},{"p":5,"x":226,"y":3e11,"lo":1.9e11,"hi":4e11},
{"p":6,"x":1.29,"y":3.3e11,"lo":3.1e11,"hi":3.5e11},{"p":6,"x":1.64,"y":2.75e11,"lo":2.6e11,"hi":2.9e11},{"p":6,"x":2.12,"y":1.78e11,"lo":1.68e11,"hi":1.88e11},{"p":6,"x":2.87,"y":8.3e10,"lo":7.8e10,"hi":8.8e10},{"p":6,"x":8.7,"y":2.34e11,"lo":1.9e11,"hi":2.9e11},{"p":6,"x":25.4,"y":1.53e12,"lo":8.5e11,"hi":2.24e12},{"p":6,"x":90,"y":1.17e12,"lo":7.1e11,"hi":1.66e12},{"p":6,"x":124,"y":1.24e12,"lo":8.5e11,"hi":1.58e12},{"p":6,"x":177,"y":7.4e11,"lo":4.6e11,"hi":1.02e12}
]
},
"vconcat": [
{"width": 2460, "height": 6, "data": {"values": []}, "mark": "rect", "view": {"stroke": null, "fill": "#cc0000"}},
{"spacing": 0, "hconcat": [
 {"width": 6, "height": 712, "data": {"values": []}, "mark": "rect", "view": {"stroke": null, "fill": "#cc0000"}},
 {"width": 45, "height": 1, "data": {"values": []}, "mark": "rect", "view": {"stroke": null}},
 {"spacing": 0, "vconcat": [
  {"width": 1, "height": 48, "data": {"values": []}, "mark": "rect", "view": {"stroke": null}},
  {"width": 566, "height": 566,
   "layer": [
    {"data": {"name": "c"}, "transform": [{"filter": "datum.p==1 && datum.s=='C'"}], "mark": {"type": "line", "color": "#ffa500", "strokeWidth": 7, "strokeJoin": "round", "clip": true},
     "encoding": {"x": {"field": "x", "type": "quantitative", "scale": {"type": "log", "domain": [0.0653, 1000], "nice": false}, "axis": {"orient": "bottom", "values": [0.1,1,10,100,1000], "tickSize": -12, "labelPadding": 26, "labelExpr": "format(datum.value,'~g')", "title": "Rest−frame Wavelength [Microns]", "titlePadding": 14}},
                  "y": {"field": "y", "type": "quantitative", "scale": {"type": "log", "domain": [1e8, 4e12], "nice": false}, "axis": {"orient": "left", "values": [1e8,1e9,1e10,1e11,1e12], "tickSize": -12, "labelPadding": 17, "labelExpr": "'1e+'+format(round(log(datum.value)/LN10),'02d')", "title": "νLᵥ (Lₛₒₗₐᵣ)", "titlePadding": 3}}}},
    {"data": {"name": "c"}, "transform": [{"filter": "datum.p==1 && datum.s!='C'"}], "mark": {"type": "line", "strokeWidth": 2.2, "strokeDash": [2, 4], "clip": true},
     "encoding": {"x": {"field": "x", "type": "quantitative", "scale": {"type": "log", "domain": [0.0653, 1000], "nice": false}, "axis": {"orient": "bottom", "values": [0.07,0.08,0.09,0.2,0.3,0.4,0.5,0.6,0.7,0.8,0.9,2,3,4,5,6,7,8,9,20,30,40,50,60,70,80,90,200,300,400,500,600,700,800,900], "tickSize": -6, "labels": false, "title": null}},
                  "y": {"field": "y", "type": "quantitative", "scale": {"type": "log", "domain": [1e8, 4e12], "nice": false}, "axis": {"orient": "left", "values": [2e8,3e8,4e8,5e8,6e8,7e8,8e8,9e8,2e9,3e9,4e9,5e9,6e9,7e9,8e9,9e9,2e10,3e10,4e10,5e10,6e10,7e10,8e10,9e10,2e11,3e11,4e11,5e11,6e11,7e11,8e11,9e11,2e12,3e12], "tickSize": -6, "labels": false, "title": null}},
                  "color": {"field": "s", "type": "nominal", "scale": {"domain": ["E","A","M","D"], "range": ["#ff0000","#0000ff","#9933ff","#a01818"]}, "legend": null}}},
    {"data": {"name": "pt"}, "transform": [{"filter": "datum.p==1"}], "mark": {"type": "rule", "color": "black", "strokeWidth": 2.5, "clip": true},
     "encoding": {"x": {"field": "x", "type": "quantitative", "scale": {"type": "log", "domain": [0.0653, 1000], "nice": false}, "axis": {"orient": "top", "values": [0.1,1,10,100,1000], "tickSize": -12, "labels": false, "title": null}},
                  "y": {"field": "lo", "type": "quantitative", "scale": {"type": "log", "domain": [1e8, 4e12], "nice": false}, "axis": {"orient": "right", "values": [1e8,1e9,1e10,1e11,1e12], "tickSize": -12, "labels": false, "title": null}},
                  "y2": {"field": "hi"}}},
    {"data": {"name": "pt"}, "transform": [{"filter": "datum.p==1"}], "mark": {"type": "point", "shape": "diamond", "filled": true, "color": "black", "size": 100, "opacity": 1},
     "encoding": {"x": {"field": "x", "type": "quantitative", "scale": {"type": "log", "domain": [0.0653, 1000], "nice": false}, "axis": {"orient": "top", "values": [0.07,0.08,0.09,0.2,0.3,0.4,0.5,0.6,0.7,0.8,0.9,2,3,4,5,6,7,8,9,20,30,40,50,60,70,80,90,200,300,400,500,600,700,800,900], "tickSize": -6, "labels": false, "title": null}},
                  "y": {"field": "y", "type": "quantitative", "scale": {"type": "log", "domain": [1e8, 4e12], "nice": false}, "axis": {"orient": "right", "values": [2e8,3e8,4e8,5e8,6e8,7e8,8e8,9e8,2e9,3e9,4e9,5e9,6e9,7e9,8e9,9e9,2e10,3e10,4e10,5e10,6e10,7e10,8e10,9e10,2e11,3e11,4e11,5e11,6e11,7e11,8e11,9e11,2e12,3e12], "tickSize": -6, "labels": false, "title": null}}}},
    {"data": {"values": [{"t": "<z> = 1.0"}]}, "mark": {"type": "text", "align": "right", "baseline": "middle", "font": "DejaVu Sans", "fontSize": 23, "color": "black"},
     "encoding": {"x": {"datum": 620, "type": "quantitative", "scale": {"type": "log", "domain": [0.0653, 1000], "nice": false}, "axis": null}, "y": {"datum": 1.75e12, "type": "quantitative", "scale": {"type": "log", "domain": [1e8, 4e12], "nice": false}, "axis": null}, "text": {"field": "t"}}},
    {"data": {"values": [{"t": "24um-faint"}]}, "mark": {"type": "text", "align": "left", "baseline": "middle", "font": "DejaVu Sans", "fontWeight": "bold", "fontSize": 48, "color": "black"},
     "encoding": {"x": {"datum": 0.17, "type": "quantitative", "scale": {"type": "log", "domain": [0.0653, 1000], "nice": false}, "axis": null}, "y": {"datum": 1.22e12, "type": "quantitative", "scale": {"type": "log", "domain": [1e8, 4e12], "nice": false}, "axis": null}, "text": {"field": "t"}}}
   ],
   "resolve": {"axis": {"x": "independent", "y": "independent"}}}
 ]},
 {"width": 51, "height": 1, "data": {"values": []}, "mark": "rect", "view": {"stroke": null}},
 {"spacing": 0, "vconcat": [
  {"width": 1, "height": 55, "data": {"values": []}, "mark": "rect", "view": {"stroke": null}},
  {"width": 565, "height": 565,
   "layer": [
    {"data": {"name": "c"}, "transform": [{"filter": "datum.p==2 && datum.s=='C'"}], "mark": {"type": "line", "color": "#ffa500", "strokeWidth": 7, "strokeJoin": "round", "clip": true},
     "encoding": {"x": {"field": "x", "type": "quantitative", "scale": {"type": "log", "domain": [0.0653, 1000], "nice": false}, "axis": {"orient": "bottom", "values": [0.1,1,10,100,1000], "tickSize": -12, "labelPadding": 26, "labelExpr": "format(datum.value,'~g')", "title": "Rest−frame Wavelength [Microns]", "titlePadding": 14}},
                  "y": {"field": "y", "type": "quantitative", "scale": {"type": "log", "domain": [1e8, 4e12], "nice": false}, "axis": {"orient": "left", "values": [1e8,1e9,1e10,1e11,1e12], "tickSize": -12, "labels": false, "title": null}}}},
    {"data": {"name": "c"}, "transform": [{"filter": "datum.p==2 && datum.s!='C'"}], "mark": {"type": "line", "strokeWidth": 2.2, "strokeDash": [2, 4], "clip": true},
     "encoding": {"x": {"field": "x", "type": "quantitative", "scale": {"type": "log", "domain": [0.0653, 1000], "nice": false}, "axis": {"orient": "bottom", "values": [0.07,0.08,0.09,0.2,0.3,0.4,0.5,0.6,0.7,0.8,0.9,2,3,4,5,6,7,8,9,20,30,40,50,60,70,80,90,200,300,400,500,600,700,800,900], "tickSize": -6, "labels": false, "title": null}},
                  "y": {"field": "y", "type": "quantitative", "scale": {"type": "log", "domain": [1e8, 4e12], "nice": false}, "axis": {"orient": "left", "values": [2e8,3e8,4e8,5e8,6e8,7e8,8e8,9e8,2e9,3e9,4e9,5e9,6e9,7e9,8e9,9e9,2e10,3e10,4e10,5e10,6e10,7e10,8e10,9e10,2e11,3e11,4e11,5e11,6e11,7e11,8e11,9e11,2e12,3e12], "tickSize": -6, "labels": false, "title": null}},
                  "color": {"field": "s", "type": "nominal", "scale": {"domain": ["E","A","M","D"], "range": ["#ff0000","#0000ff","#9933ff","#a01818"]}, "legend": null}}},
    {"data": {"name": "pt"}, "transform": [{"filter": "datum.p==2"}], "mark": {"type": "rule", "color": "black", "strokeWidth": 2.5, "clip": true},
     "encoding": {"x": {"field": "x", "type": "quantitative", "scale": {"type": "log", "domain": [0.0653, 1000], "nice": false}, "axis": {"orient": "top", "values": [0.1,1,10,100,1000], "tickSize": -12, "labels": false, "title": null}},
                  "y": {"field": "lo", "type": "quantitative", "scale": {"type": "log", "domain": [1e8, 4e12], "nice": false}, "axis": {"orient": "right", "values": [1e8,1e9,1e10,1e11,1e12], "tickSize": -12, "labels": false, "title": null}},
                  "y2": {"field": "hi"}}},
    {"data": {"name": "pt"}, "transform": [{"filter": "datum.p==2"}], "mark": {"type": "point", "shape": "diamond", "filled": true, "color": "black", "size": 100, "opacity": 1},
     "encoding": {"x": {"field": "x", "type": "quantitative", "scale": {"type": "log", "domain": [0.0653, 1000], "nice": false}, "axis": {"orient": "top", "values": [0.07,0.08,0.09,0.2,0.3,0.4,0.5,0.6,0.7,0.8,0.9,2,3,4,5,6,7,8,9,20,30,40,50,60,70,80,90,200,300,400,500,600,700,800,900], "tickSize": -6, "labels": false, "title": null}},
                  "y": {"field": "y", "type": "quantitative", "scale": {"type": "log", "domain": [1e8, 4e12], "nice": false}, "axis": {"orient": "right", "values": [2e8,3e8,4e8,5e8,6e8,7e8,8e8,9e8,2e9,3e9,4e9,5e9,6e9,7e9,8e9,9e9,2e10,3e10,4e10,5e10,6e10,7e10,8e10,9e10,2e11,3e11,4e11,5e11,6e11,7e11,8e11,9e11,2e12,3e12], "tickSize": -6, "labels": false, "title": null}}}},
    {"data": {"values": [{"t": "<z> = 1.2"}]}, "mark": {"type": "text", "align": "right", "baseline": "middle", "font": "DejaVu Sans", "fontSize": 23, "color": "black"},
     "encoding": {"x": {"datum": 724, "type": "quantitative", "scale": {"type": "log", "domain": [0.0653, 1000], "nice": false}, "axis": null}, "y": {"datum": 2.15e12, "type": "quantitative", "scale": {"type": "log", "domain": [1e8, 4e12], "nice": false}, "axis": null}, "text": {"field": "t"}}}
   ],
   "resolve": {"axis": {"x": "independent", "y": "independent"}}}
 ]},
 {"width": 57, "height": 1, "data": {"values": []}, "mark": "rect", "view": {"stroke": null}},
 {"spacing": 0, "vconcat": [
  {"width": 1, "height": 63, "data": {"values": []}, "mark": "rect", "view": {"stroke": null}},
  {"width": 564, "height": 566,
   "layer": [
    {"data": {"name": "c"}, "transform": [{"filter": "datum.p==3 && datum.s=='C'"}], "mark": {"type": "line", "color": "#ffa500", "strokeWidth": 7, "strokeJoin": "round", "clip": true},
     "encoding": {"x": {"field": "x", "type": "quantitative", "scale": {"type": "log", "domain": [0.0653, 1000], "nice": false}, "axis": {"orient": "bottom", "values": [0.1,1,10,100,1000], "tickSize": -12, "labelPadding": 26, "labelExpr": "format(datum.value,'~g')", "title": "Rest−frame Wavelength [Microns]", "titlePadding": 14}},
                  "y": {"field": "y", "type": "quantitative", "scale": {"type": "log", "domain": [1e8, 4e12], "nice": false}, "axis": {"orient": "left", "values": [1e8,1e9,1e10,1e11,1e12], "tickSize": -12, "labels": false, "title": null}}}},
    {"data": {"name": "c"}, "transform": [{"filter": "datum.p==3 && datum.s!='C'"}], "mark": {"type": "line", "strokeWidth": 2.2, "strokeDash": [2, 4], "clip": true},
     "encoding": {"x": {"field": "x", "type": "quantitative", "scale": {"type": "log", "domain": [0.0653, 1000], "nice": false}, "axis": {"orient": "bottom", "values": [0.07,0.08,0.09,0.2,0.3,0.4,0.5,0.6,0.7,0.8,0.9,2,3,4,5,6,7,8,9,20,30,40,50,60,70,80,90,200,300,400,500,600,700,800,900], "tickSize": -6, "labels": false, "title": null}},
                  "y": {"field": "y", "type": "quantitative", "scale": {"type": "log", "domain": [1e8, 4e12], "nice": false}, "axis": {"orient": "left", "values": [2e8,3e8,4e8,5e8,6e8,7e8,8e8,9e8,2e9,3e9,4e9,5e9,6e9,7e9,8e9,9e9,2e10,3e10,4e10,5e10,6e10,7e10,8e10,9e10,2e11,3e11,4e11,5e11,6e11,7e11,8e11,9e11,2e12,3e12], "tickSize": -6, "labels": false, "title": null}},
                  "color": {"field": "s", "type": "nominal", "scale": {"domain": ["E","A","M","D"], "range": ["#ff0000","#0000ff","#9933ff","#a01818"]}, "legend": null}}},
    {"data": {"name": "pt"}, "transform": [{"filter": "datum.p==3"}], "mark": {"type": "rule", "color": "black", "strokeWidth": 2.5, "clip": true},
     "encoding": {"x": {"field": "x", "type": "quantitative", "scale": {"type": "log", "domain": [0.0653, 1000], "nice": false}, "axis": {"orient": "top", "values": [0.1,1,10,100,1000], "tickSize": -12, "labels": false, "title": null}},
                  "y": {"field": "lo", "type": "quantitative", "scale": {"type": "log", "domain": [1e8, 4e12], "nice": false}, "axis": {"orient": "right", "values": [1e8,1e9,1e10,1e11,1e12], "tickSize": -12, "labels": false, "title": null}},
                  "y2": {"field": "hi"}}},
    {"data": {"name": "pt"}, "transform": [{"filter": "datum.p==3"}], "mark": {"type": "point", "shape": "diamond", "filled": true, "color": "black", "size": 100, "opacity": 1},
     "encoding": {"x": {"field": "x", "type": "quantitative", "scale": {"type": "log", "domain": [0.0653, 1000], "nice": false}, "axis": {"orient": "top", "values": [0.07,0.08,0.09,0.2,0.3,0.4,0.5,0.6,0.7,0.8,0.9,2,3,4,5,6,7,8,9,20,30,40,50,60,70,80,90,200,300,400,500,600,700,800,900], "tickSize": -6, "labels": false, "title": null}},
                  "y": {"field": "y", "type": "quantitative", "scale": {"type": "log", "domain": [1e8, 4e12], "nice": false}, "axis": {"orient": "right", "values": [2e8,3e8,4e8,5e8,6e8,7e8,8e8,9e8,2e9,3e9,4e9,5e9,6e9,7e9,8e9,9e9,2e10,3e10,4e10,5e10,6e10,7e10,8e10,9e10,2e11,3e11,4e11,5e11,6e11,7e11,8e11,9e11,2e12,3e12], "tickSize": -6, "labels": false, "title": null}}}},
    {"data": {"values": [{"t": "<z> = 1.5"}]}, "mark": {"type": "text", "align": "right", "baseline": "middle", "font": "DejaVu Sans", "fontSize": 23, "color": "black"},
     "encoding": {"x": {"datum": 645, "type": "quantitative", "scale": {"type": "log", "domain": [0.0653, 1000], "nice": false}, "axis": null}, "y": {"datum": 2.4e12, "type": "quantitative", "scale": {"type": "log", "domain": [1e8, 4e12], "nice": false}, "axis": null}, "text": {"field": "t"}}}
   ],
   "resolve": {"axis": {"x": "independent", "y": "independent"}}}
 ]},
 {"width": 457, "height": 699,
  "data": {"values": [
   {"g": "Elliptical", "t": "Elliptical"},
   {"g": "M82", "t": "M82\nStar Forming"},
   {"g": "Arp220", "t": "Arp220\nStar Forming"},
   {"g": "Combined", "t": "Combined\nElliptical + SF"},
   {"g": "Cirrus", "t": "Cirrus Dust"}]},
  "layer": [
   {"transform": [{"filter": "datum.g=='Elliptical' || datum.g=='Cirrus'"}],
    "mark": {"type": "text", "font": "DejaVu Sans", "fontWeight": "bold", "fontSize": 47, "baseline": "middle", "align": "center", "dx": -8},
    "encoding": {
     "y": {"field": "g", "type": "nominal", "scale": {"type": "point", "padding": 0.17, "domain": ["Elliptical","Cirrus"]}, "axis": null},
     "fill": {"field": "g", "type": "nominal", "scale": {"domain": ["Elliptical","M82","Arp220","Combined","Cirrus"], "range": ["#cc0000","#663399","#0000cc","#ff6600","#990000"]}, "legend": null},
     "text": {"field": "t"}}},
   {"transform": [{"filter": "datum.g!='Elliptical' && datum.g!='Cirrus'"}],
    "mark": {"type": "text", "font": "DejaVu Sans", "fontWeight": "bold", "fontSize": 47, "lineBreak": "\n", "lineHeight": 57, "baseline": "middle", "align": "center", "dx": -8, "dy": -28.5},
    "encoding": {
     "y": {"field": "g", "type": "nominal", "scale": {"type": "point", "padding": 0.384, "domain": ["Elliptical","M82","Arp220","Combined","Cirrus"]}, "axis": null},
     "fill": {"field": "g", "type": "nominal", "scale": {"domain": ["Elliptical","M82","Arp220","Combined","Cirrus"], "range": ["#cc0000","#663399","#0000cc","#ff6600","#990000"]}, "legend": null},
     "text": {"field": "t"}}}
  ],
  "resolve": {"scale": {"y": "independent"}},
  "view": {"stroke": null}},
 {"width": 6, "height": 712, "data": {"values": []}, "mark": "rect", "view": {"stroke": null, "fill": "#cc0000"}}
]},
{"width": 2463, "height": 6, "data": {"values": []}, "mark": "rect", "view": {"stroke": null, "fill": "#0a468c"}},
{"spacing": 0, "hconcat": [
 {"width": 6, "height": 684, "data": {"values": []}, "mark": "rect", "view": {"stroke": null, "fill": "#0a468c"}},
 {"width": 59, "height": 1, "data": {"values": []}, "mark": "rect", "view": {"stroke": null}},
 {"spacing": 0, "vconcat": [
  {"width": 1, "height": 18, "data": {"values": []}, "mark": "rect", "view": {"stroke": null}},
  {"width": 565, "height": 565,
   "layer": [
    {"data": {"name": "c"}, "transform": [{"filter": "datum.p==4 && datum.s=='C'"}], "mark": {"type": "line", "color": "#ffa500", "strokeWidth": 7, "strokeJoin": "round", "clip": true},
     "encoding": {"x": {"field": "x", "type": "quantitative", "scale": {"type": "log", "domain": [0.0653, 1000], "nice": false}, "axis": {"orient": "bottom", "values": [0.1,1,10,100,1000], "tickSize": -12, "labelPadding": 26, "labelExpr": "format(datum.value,'~g')", "title": "Rest−frame Wavelength [Microns]", "titlePadding": 14}},
                  "y": {"field": "y", "type": "quantitative", "scale": {"type": "log", "domain": [1e9, 1e13], "nice": false}, "axis": {"orient": "left", "values": [1e9,1e10,1e11,1e12,1e13], "tickSize": -12, "labelPadding": 17, "labelExpr": "'1e+'+format(round(log(datum.value)/LN10),'02d')", "title": "νLᵥ (Lₛₒₗₐᵣ)", "titlePadding": 3}}}},
    {"data": {"name": "c"}, "transform": [{"filter": "datum.p==4 && datum.s!='C'"}], "mark": {"type": "line", "strokeWidth": 2.2, "strokeDash": [2, 4], "clip": true},
     "encoding": {"x": {"field": "x", "type": "quantitative", "scale": {"type": "log", "domain": [0.0653, 1000], "nice": false}, "axis": {"orient": "bottom", "values": [0.07,0.08,0.09,0.2,0.3,0.4,0.5,0.6,0.7,0.8,0.9,2,3,4,5,6,7,8,9,20,30,40,50,60,70,80,90,200,300,400,500,600,700,800,900], "tickSize": -6, "labels": false, "title": null}},
                  "y": {"field": "y", "type": "quantitative", "scale": {"type": "log", "domain": [1e9, 1e13], "nice": false}, "axis": {"orient": "left", "values": [2e9,3e9,4e9,5e9,6e9,7e9,8e9,9e9,2e10,3e10,4e10,5e10,6e10,7e10,8e10,9e10,2e11,3e11,4e11,5e11,6e11,7e11,8e11,9e11,2e12,3e12,4e12,5e12,6e12,7e12,8e12,9e12], "tickSize": -6, "labels": false, "title": null}},
                  "color": {"field": "s", "type": "nominal", "scale": {"domain": ["E","A","M","D"], "range": ["#ff0000","#0000ff","#9933ff","#a01818"]}, "legend": null}}},
    {"data": {"name": "pt"}, "transform": [{"filter": "datum.p==4"}], "mark": {"type": "rule", "color": "black", "strokeWidth": 2.5, "clip": true},
     "encoding": {"x": {"field": "x", "type": "quantitative", "scale": {"type": "log", "domain": [0.0653, 1000], "nice": false}, "axis": {"orient": "top", "values": [0.1,1,10,100,1000], "tickSize": -12, "labels": false, "title": null}},
                  "y": {"field": "lo", "type": "quantitative", "scale": {"type": "log", "domain": [1e9, 1e13], "nice": false}, "axis": {"orient": "right", "values": [1e9,1e10,1e11,1e12,1e13], "tickSize": -12, "labels": false, "title": null}},
                  "y2": {"field": "hi"}}},
    {"data": {"name": "pt"}, "transform": [{"filter": "datum.p==4"}], "mark": {"type": "point", "shape": "diamond", "filled": true, "color": "black", "size": 100, "opacity": 1},
     "encoding": {"x": {"field": "x", "type": "quantitative", "scale": {"type": "log", "domain": [0.0653, 1000], "nice": false}, "axis": {"orient": "top", "values": [0.07,0.08,0.09,0.2,0.3,0.4,0.5,0.6,0.7,0.8,0.9,2,3,4,5,6,7,8,9,20,30,40,50,60,70,80,90,200,300,400,500,600,700,800,900], "tickSize": -6, "labels": false, "title": null}},
                  "y": {"field": "y", "type": "quantitative", "scale": {"type": "log", "domain": [1e9, 1e13], "nice": false}, "axis": {"orient": "right", "values": [2e9,3e9,4e9,5e9,6e9,7e9,8e9,9e9,2e10,3e10,4e10,5e10,6e10,7e10,8e10,9e10,2e11,3e11,4e11,5e11,6e11,7e11,8e11,9e11,2e12,3e12,4e12,5e12,6e12,7e12,8e12,9e12], "tickSize": -6, "labels": false, "title": null}}}},
    {"data": {"values": [{"t": "<z> = 1.0"}]}, "mark": {"type": "text", "align": "right", "baseline": "middle", "font": "DejaVu Sans", "fontSize": 23, "color": "black"},
     "encoding": {"x": {"datum": 631, "type": "quantitative", "scale": {"type": "log", "domain": [0.0653, 1000], "nice": false}, "axis": null}, "y": {"datum": 5.3e12, "type": "quantitative", "scale": {"type": "log", "domain": [1e9, 1e13], "nice": false}, "axis": null}, "text": {"field": "t"}}},
    {"data": {"values": [{"t": "24um-bright"}]}, "mark": {"type": "text", "align": "left", "baseline": "middle", "font": "DejaVu Sans", "fontWeight": "bold", "fontSize": 48, "color": "black"},
     "encoding": {"x": {"datum": 0.119, "type": "quantitative", "scale": {"type": "log", "domain": [0.0653, 1000], "nice": false}, "axis": null}, "y": {"datum": 3.6e12, "type": "quantitative", "scale": {"type": "log", "domain": [1e9, 1e13], "nice": false}, "axis": null}, "text": {"field": "t"}}}
   ],
   "resolve": {"axis": {"x": "independent", "y": "independent"}}}
 ]},
 {"width": 125, "height": 1, "data": {"values": []}, "mark": "rect", "view": {"stroke": null}},
 {"spacing": 0, "vconcat": [
  {"width": 1, "height": 25, "data": {"values": []}, "mark": "rect", "view": {"stroke": null}},
  {"width": 566, "height": 566,
   "layer": [
    {"data": {"name": "c"}, "transform": [{"filter": "datum.p==5 && datum.s=='C'"}], "mark": {"type": "line", "color": "#ffa500", "strokeWidth": 7, "strokeJoin": "round", "clip": true},
     "encoding": {"x": {"field": "x", "type": "quantitative", "scale": {"type": "log", "domain": [0.0653, 1000], "nice": false}, "axis": {"orient": "bottom", "values": [0.1,1,10,100,1000], "tickSize": -12, "labelPadding": 26, "labelExpr": "format(datum.value,'~g')", "title": "Rest−frame Wavelength [Microns]", "titlePadding": 14}},
                  "y": {"field": "y", "type": "quantitative", "scale": {"type": "log", "domain": [1e9, 1e13], "nice": false}, "axis": {"orient": "left", "values": [1e9,1e10,1e11,1e12,1e13], "tickSize": -12, "labelPadding": 17, "labelExpr": "'1e+'+format(round(log(datum.value)/LN10),'02d')", "title": "νLᵥ (Lₛₒₗₐᵣ)", "titlePadding": 3}}}},
    {"data": {"name": "c"}, "transform": [{"filter": "datum.p==5 && datum.s!='C'"}], "mark": {"type": "line", "strokeWidth": 2.2, "strokeDash": [2, 4], "clip": true},
     "encoding": {"x": {"field": "x", "type": "quantitative", "scale": {"type": "log", "domain": [0.0653, 1000], "nice": false}, "axis": {"orient": "bottom", "values": [0.07,0.08,0.09,0.2,0.3,0.4,0.5,0.6,0.7,0.8,0.9,2,3,4,5,6,7,8,9,20,30,40,50,60,70,80,90,200,300,400,500,600,700,800,900], "tickSize": -6, "labels": false, "title": null}},
                  "y": {"field": "y", "type": "quantitative", "scale": {"type": "log", "domain": [1e9, 1e13], "nice": false}, "axis": {"orient": "left", "values": [2e9,3e9,4e9,5e9,6e9,7e9,8e9,9e9,2e10,3e10,4e10,5e10,6e10,7e10,8e10,9e10,2e11,3e11,4e11,5e11,6e11,7e11,8e11,9e11,2e12,3e12,4e12,5e12,6e12,7e12,8e12,9e12], "tickSize": -6, "labels": false, "title": null}},
                  "color": {"field": "s", "type": "nominal", "scale": {"domain": ["E","A","M","D"], "range": ["#ff0000","#0000ff","#9933ff","#a01818"]}, "legend": null}}},
    {"data": {"name": "pt"}, "transform": [{"filter": "datum.p==5"}], "mark": {"type": "rule", "color": "black", "strokeWidth": 2.5, "clip": true},
     "encoding": {"x": {"field": "x", "type": "quantitative", "scale": {"type": "log", "domain": [0.0653, 1000], "nice": false}, "axis": {"orient": "top", "values": [0.1,1,10,100,1000], "tickSize": -12, "labels": false, "title": null}},
                  "y": {"field": "lo", "type": "quantitative", "scale": {"type": "log", "domain": [1e9, 1e13], "nice": false}, "axis": {"orient": "right", "values": [1e9,1e10,1e11,1e12,1e13], "tickSize": -12, "labels": false, "title": null}},
                  "y2": {"field": "hi"}}},
    {"data": {"name": "pt"}, "transform": [{"filter": "datum.p==5"}], "mark": {"type": "point", "shape": "diamond", "filled": true, "color": "black", "size": 100, "opacity": 1},
     "encoding": {"x": {"field": "x", "type": "quantitative", "scale": {"type": "log", "domain": [0.0653, 1000], "nice": false}, "axis": {"orient": "top", "values": [0.07,0.08,0.09,0.2,0.3,0.4,0.5,0.6,0.7,0.8,0.9,2,3,4,5,6,7,8,9,20,30,40,50,60,70,80,90,200,300,400,500,600,700,800,900], "tickSize": -6, "labels": false, "title": null}},
                  "y": {"field": "y", "type": "quantitative", "scale": {"type": "log", "domain": [1e9, 1e13], "nice": false}, "axis": {"orient": "right", "values": [2e9,3e9,4e9,5e9,6e9,7e9,8e9,9e9,2e10,3e10,4e10,5e10,6e10,7e10,8e10,9e10,2e11,3e11,4e11,5e11,6e11,7e11,8e11,9e11,2e12,3e12,4e12,5e12,6e12,7e12,8e12,9e12], "tickSize": -6, "labels": false, "title": null}}}},
    {"data": {"values": [{"t": "<z> = 1.2"}]}, "mark": {"type": "text", "align": "right", "baseline": "middle", "font": "DejaVu Sans", "fontSize": 23, "color": "black"},
     "encoding": {"x": {"datum": 645, "type": "quantitative", "scale": {"type": "log", "domain": [0.0653, 1000], "nice": false}, "axis": null}, "y": {"datum": 5.1e12, "type": "quantitative", "scale": {"type": "log", "domain": [1e9, 1e13], "nice": false}, "axis": null}, "text": {"field": "t"}}}
   ],
   "resolve": {"axis": {"x": "independent", "y": "independent"}}}
 ]},
 {"width": 151, "height": 1, "data": {"values": []}, "mark": "rect", "view": {"stroke": null}},
 {"spacing": 0, "vconcat": [
  {"width": 1, "height": 32, "data": {"values": []}, "mark": "rect", "view": {"stroke": null}},
  {"width": 565, "height": 565,
   "layer": [
    {"data": {"name": "c"}, "transform": [{"filter": "datum.p==6 && datum.s=='C'"}], "mark": {"type": "line", "color": "#ffa500", "strokeWidth": 7, "strokeJoin": "round", "clip": true},
     "encoding": {"x": {"field": "x", "type": "quantitative", "scale": {"type": "log", "domain": [0.0653, 1000], "nice": false}, "axis": {"orient": "bottom", "values": [0.1,1,10,100,1000], "tickSize": -12, "labelPadding": 26, "labelExpr": "format(datum.value,'~g')", "title": "Rest−frame Wavelength [Microns]", "titlePadding": 14}},
                  "y": {"field": "y", "type": "quantitative", "scale": {"type": "log", "domain": [1e9, 1e13], "nice": false}, "axis": {"orient": "left", "values": [1e9,1e10,1e11,1e12,1e13], "tickSize": -12, "labelPadding": 17, "labelExpr": "'1e+'+format(round(log(datum.value)/LN10),'02d')", "title": "νLᵥ (Lₛₒₗₐᵣ)", "titlePadding": 3}}}},
    {"data": {"name": "c"}, "transform": [{"filter": "datum.p==6 && datum.s!='C'"}], "mark": {"type": "line", "strokeWidth": 2.2, "strokeDash": [2, 4], "clip": true},
     "encoding": {"x": {"field": "x", "type": "quantitative", "scale": {"type": "log", "domain": [0.0653, 1000], "nice": false}, "axis": {"orient": "bottom", "values": [0.07,0.08,0.09,0.2,0.3,0.4,0.5,0.6,0.7,0.8,0.9,2,3,4,5,6,7,8,9,20,30,40,50,60,70,80,90,200,300,400,500,600,700,800,900], "tickSize": -6, "labels": false, "title": null}},
                  "y": {"field": "y", "type": "quantitative", "scale": {"type": "log", "domain": [1e9, 1e13], "nice": false}, "axis": {"orient": "left", "values": [2e9,3e9,4e9,5e9,6e9,7e9,8e9,9e9,2e10,3e10,4e10,5e10,6e10,7e10,8e10,9e10,2e11,3e11,4e11,5e11,6e11,7e11,8e11,9e11,2e12,3e12,4e12,5e12,6e12,7e12,8e12,9e12], "tickSize": -6, "labels": false, "title": null}},
                  "color": {"field": "s", "type": "nominal", "scale": {"domain": ["E","A","M","D"], "range": ["#ff0000","#0000ff","#9933ff","#a01818"]}, "legend": null}}},
    {"data": {"name": "pt"}, "transform": [{"filter": "datum.p==6"}], "mark": {"type": "rule", "color": "black", "strokeWidth": 2.5, "clip": true},
     "encoding": {"x": {"field": "x", "type": "quantitative", "scale": {"type": "log", "domain": [0.0653, 1000], "nice": false}, "axis": {"orient": "top", "values": [0.1,1,10,100,1000], "tickSize": -12, "labels": false, "title": null}},
                  "y": {"field": "lo", "type": "quantitative", "scale": {"type": "log", "domain": [1e9, 1e13], "nice": false}, "axis": {"orient": "right", "values": [1e9,1e10,1e11,1e12,1e13], "tickSize": -12, "labels": false, "title": null}},
                  "y2": {"field": "hi"}}},
    {"data": {"name": "pt"}, "transform": [{"filter": "datum.p==6"}], "mark": {"type": "point", "shape": "diamond", "filled": true, "color": "black", "size": 100, "opacity": 1},
     "encoding": {"x": {"field": "x", "type": "quantitative", "scale": {"type": "log", "domain": [0.0653, 1000], "nice": false}, "axis": {"orient": "top", "values": [0.07,0.08,0.09,0.2,0.3,0.4,0.5,0.6,0.7,0.8,0.9,2,3,4,5,6,7,8,9,20,30,40,50,60,70,80,90,200,300,400,500,600,700,800,900], "tickSize": -6, "labels": false, "title": null}},
                  "y": {"field": "y", "type": "quantitative", "scale": {"type": "log", "domain": [1e9, 1e13], "nice": false}, "axis": {"orient": "right", "values": [2e9,3e9,4e9,5e9,6e9,7e9,8e9,9e9,2e10,3e10,4e10,5e10,6e10,7e10,8e10,9e10,2e11,3e11,4e11,5e11,6e11,7e11,8e11,9e11,2e12,3e12,4e12,5e12,6e12,7e12,8e12,9e12], "tickSize": -6, "labels": false, "title": null}}}},
    {"data": {"values": [{"t": "<z> = 1.8"}]}, "mark": {"type": "text", "align": "right", "baseline": "middle", "font": "DejaVu Sans", "fontSize": 23, "color": "black"},
     "encoding": {"x": {"datum": 692, "type": "quantitative", "scale": {"type": "log", "domain": [0.0653, 1000], "nice": false}, "axis": null}, "y": {"datum": 5.5e12, "type": "quantitative", "scale": {"type": "log", "domain": [1e9, 1e13], "nice": false}, "axis": null}, "text": {"field": "t"}}}
   ],
   "resolve": {"axis": {"x": "independent", "y": "independent"}}}
 ]},
 {"width": 106, "height": 1, "data": {"values": []}, "mark": "rect", "view": {"stroke": null}},
 {"width": 6, "height": 684, "data": {"values": []}, "mark": "rect", "view": {"stroke": null, "fill": "#0a468c"}}
]},
{"width": 2463, "height": 6, "data": {"values": []}, "mark": "rect", "view": {"stroke": null, "fill": "#0a468c"}}
],
"config": {
 "view": {"stroke": "black", "strokeWidth": 2},
 "axis": {"domain": false, "grid": false, "ticks": true, "tickColor": "black", "tickWidth": 1.5, "labelFont": "Liberation Sans", "labelFontSize": 19, "labelColor": "#333333", "titleFont": "Liberation Sans", "titleFontSize": 22, "titleFontWeight": "normal", "titleColor": "#333333", "labelFlush": false, "labelOverlap": false},
 "axisY": {"titleFontSize": 21}
}
}
